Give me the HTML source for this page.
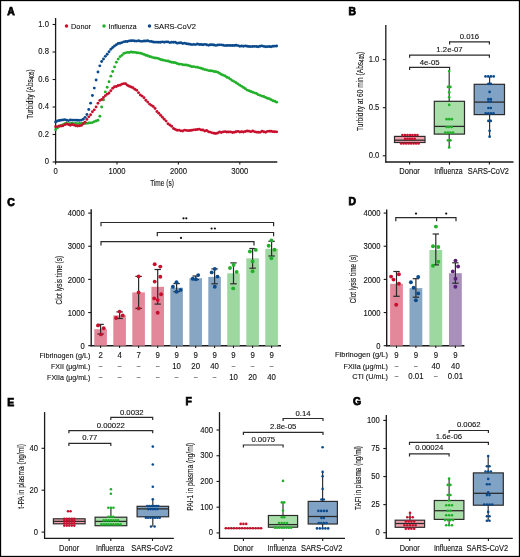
<!DOCTYPE html>
<html><head><meta charset="utf-8"><style>
html,body{margin:0;padding:0;background:#fff;width:520px;height:557px;overflow:hidden}
svg{display:block;will-change:transform}
text{font-family:"Liberation Sans", sans-serif;stroke:#111;stroke-width:0.12px}
</style></head><body>
<svg width="520" height="557" viewBox="0 0 520 557">
<rect width="520" height="557" fill="#fff"/>
<text x="7.20" y="15.15" font-size="10.4" font-weight="bold" fill="#000" style="stroke:#000;stroke-width:0.75px">A</text>
<line x1="55.60" y1="18.00" x2="55.60" y2="162.60" stroke="#1a1a1a" stroke-width="1.3"/>
<line x1="55.00" y1="162.00" x2="277.30" y2="162.00" stroke="#1a1a1a" stroke-width="1.3"/>
<line x1="52.60" y1="162.00" x2="55.60" y2="162.00" stroke="#1a1a1a" stroke-width="1.1"/>
<text x="49.00" y="164.20" font-size="8.5" text-anchor="end" textLength="4.25" lengthAdjust="spacingAndGlyphs" fill="#111">0</text>
<line x1="52.60" y1="134.50" x2="55.60" y2="134.50" stroke="#1a1a1a" stroke-width="1.1"/>
<text x="49.00" y="136.70" font-size="8.5" text-anchor="end" textLength="10.63" lengthAdjust="spacingAndGlyphs" fill="#111">0.2</text>
<line x1="52.60" y1="107.00" x2="55.60" y2="107.00" stroke="#1a1a1a" stroke-width="1.1"/>
<text x="49.00" y="109.20" font-size="8.5" text-anchor="end" textLength="10.63" lengthAdjust="spacingAndGlyphs" fill="#111">0.4</text>
<line x1="52.60" y1="79.50" x2="55.60" y2="79.50" stroke="#1a1a1a" stroke-width="1.1"/>
<text x="49.00" y="81.70" font-size="8.5" text-anchor="end" textLength="10.63" lengthAdjust="spacingAndGlyphs" fill="#111">0.6</text>
<line x1="52.60" y1="52.00" x2="55.60" y2="52.00" stroke="#1a1a1a" stroke-width="1.1"/>
<text x="49.00" y="54.20" font-size="8.5" text-anchor="end" textLength="10.63" lengthAdjust="spacingAndGlyphs" fill="#111">0.8</text>
<line x1="52.60" y1="24.50" x2="55.60" y2="24.50" stroke="#1a1a1a" stroke-width="1.1"/>
<text x="49.00" y="26.70" font-size="8.5" text-anchor="end" textLength="10.63" lengthAdjust="spacingAndGlyphs" fill="#111">1.0</text>
<line x1="55.60" y1="162.00" x2="55.60" y2="164.60" stroke="#1a1a1a" stroke-width="1.1"/>
<text x="55.60" y="173.80" font-size="8.5" text-anchor="middle" textLength="4.25" lengthAdjust="spacingAndGlyphs" fill="#111">0</text>
<line x1="117.00" y1="162.00" x2="117.00" y2="164.60" stroke="#1a1a1a" stroke-width="1.1"/>
<text x="117.00" y="173.80" font-size="8.5" text-anchor="middle" textLength="17.02" lengthAdjust="spacingAndGlyphs" fill="#111">1000</text>
<line x1="178.40" y1="162.00" x2="178.40" y2="164.60" stroke="#1a1a1a" stroke-width="1.1"/>
<text x="178.40" y="173.80" font-size="8.5" text-anchor="middle" textLength="17.02" lengthAdjust="spacingAndGlyphs" fill="#111">2000</text>
<line x1="239.80" y1="162.00" x2="239.80" y2="164.60" stroke="#1a1a1a" stroke-width="1.1"/>
<text x="239.80" y="173.80" font-size="8.5" text-anchor="middle" textLength="17.02" lengthAdjust="spacingAndGlyphs" fill="#111">3000</text>
<text x="162.00" y="186.10" font-size="9.4" text-anchor="middle" textLength="23.7" lengthAdjust="spacingAndGlyphs" fill="#111">Time (s)</text>
<text transform="translate(32.6,94.1) rotate(-90)" font-size="9.2" text-anchor="middle" textLength="49.4" lengthAdjust="spacingAndGlyphs" fill="#111">Turbidity (Abs<tspan font-size="6.6" dy="1.6">405</tspan><tspan dy="-1.6">)</tspan></text>
<circle cx="66.50" cy="26.00" r="1.75" fill="#c8102e"/>
<text x="71.10" y="28.80" font-size="8.0" textLength="19.8" lengthAdjust="spacingAndGlyphs" fill="#111">Donor</text>
<circle cx="104.00" cy="26.00" r="1.75" fill="#22b02a"/>
<text x="108.60" y="28.80" font-size="8.0" textLength="28" lengthAdjust="spacingAndGlyphs" fill="#111">Influenza</text>
<circle cx="149.50" cy="26.00" r="1.75" fill="#0b4a8c"/>
<text x="154.10" y="28.80" font-size="8.0" textLength="41.8" lengthAdjust="spacingAndGlyphs" fill="#111">SARS-CoV2</text>
<circle cx="55.60" cy="129.64" r="1.45" fill="#22b02a"/>
<circle cx="57.44" cy="127.91" r="1.45" fill="#22b02a"/>
<circle cx="59.28" cy="126.40" r="1.45" fill="#22b02a"/>
<circle cx="61.13" cy="125.57" r="1.45" fill="#22b02a"/>
<circle cx="62.97" cy="124.71" r="1.45" fill="#22b02a"/>
<circle cx="64.81" cy="123.73" r="1.45" fill="#22b02a"/>
<circle cx="66.65" cy="123.42" r="1.45" fill="#22b02a"/>
<circle cx="68.49" cy="123.68" r="1.45" fill="#22b02a"/>
<circle cx="70.34" cy="123.40" r="1.45" fill="#22b02a"/>
<circle cx="72.18" cy="123.18" r="1.45" fill="#22b02a"/>
<circle cx="74.02" cy="123.58" r="1.45" fill="#22b02a"/>
<circle cx="75.86" cy="123.47" r="1.45" fill="#22b02a"/>
<circle cx="77.70" cy="123.64" r="1.45" fill="#22b02a"/>
<circle cx="79.55" cy="123.51" r="1.45" fill="#22b02a"/>
<circle cx="81.39" cy="123.54" r="1.45" fill="#22b02a"/>
<circle cx="83.23" cy="123.26" r="1.45" fill="#22b02a"/>
<circle cx="85.07" cy="123.40" r="1.45" fill="#22b02a"/>
<circle cx="86.91" cy="123.37" r="1.45" fill="#22b02a"/>
<circle cx="88.76" cy="123.02" r="1.45" fill="#22b02a"/>
<circle cx="90.60" cy="122.85" r="1.45" fill="#22b02a"/>
<circle cx="92.44" cy="122.60" r="1.45" fill="#22b02a"/>
<circle cx="94.28" cy="121.62" r="1.45" fill="#22b02a"/>
<circle cx="96.12" cy="121.04" r="1.45" fill="#22b02a"/>
<circle cx="97.97" cy="120.24" r="1.45" fill="#22b02a"/>
<circle cx="99.81" cy="116.19" r="1.45" fill="#22b02a"/>
<circle cx="101.65" cy="106.97" r="1.45" fill="#22b02a"/>
<circle cx="103.49" cy="99.89" r="1.45" fill="#22b02a"/>
<circle cx="105.33" cy="91.89" r="1.45" fill="#22b02a"/>
<circle cx="107.18" cy="87.27" r="1.45" fill="#22b02a"/>
<circle cx="109.02" cy="81.81" r="1.45" fill="#22b02a"/>
<circle cx="110.86" cy="76.15" r="1.45" fill="#22b02a"/>
<circle cx="112.70" cy="71.54" r="1.45" fill="#22b02a"/>
<circle cx="114.54" cy="66.91" r="1.45" fill="#22b02a"/>
<circle cx="116.39" cy="62.28" r="1.45" fill="#22b02a"/>
<circle cx="118.23" cy="59.10" r="1.45" fill="#22b02a"/>
<circle cx="120.07" cy="56.63" r="1.45" fill="#22b02a"/>
<circle cx="121.91" cy="55.33" r="1.45" fill="#22b02a"/>
<circle cx="123.75" cy="53.53" r="1.45" fill="#22b02a"/>
<circle cx="125.60" cy="52.84" r="1.45" fill="#22b02a"/>
<circle cx="127.44" cy="52.42" r="1.45" fill="#22b02a"/>
<circle cx="129.28" cy="52.48" r="1.45" fill="#22b02a"/>
<circle cx="131.12" cy="52.00" r="1.45" fill="#22b02a"/>
<circle cx="132.96" cy="52.22" r="1.45" fill="#22b02a"/>
<circle cx="134.81" cy="52.35" r="1.45" fill="#22b02a"/>
<circle cx="136.65" cy="52.68" r="1.45" fill="#22b02a"/>
<circle cx="138.49" cy="52.92" r="1.45" fill="#22b02a"/>
<circle cx="140.33" cy="53.16" r="1.45" fill="#22b02a"/>
<circle cx="142.17" cy="53.76" r="1.45" fill="#22b02a"/>
<circle cx="144.02" cy="54.40" r="1.45" fill="#22b02a"/>
<circle cx="145.86" cy="55.20" r="1.45" fill="#22b02a"/>
<circle cx="147.70" cy="55.76" r="1.45" fill="#22b02a"/>
<circle cx="149.54" cy="56.48" r="1.45" fill="#22b02a"/>
<circle cx="151.38" cy="57.03" r="1.45" fill="#22b02a"/>
<circle cx="153.23" cy="57.62" r="1.45" fill="#22b02a"/>
<circle cx="155.07" cy="57.97" r="1.45" fill="#22b02a"/>
<circle cx="156.91" cy="58.09" r="1.45" fill="#22b02a"/>
<circle cx="158.75" cy="58.82" r="1.45" fill="#22b02a"/>
<circle cx="160.59" cy="59.49" r="1.45" fill="#22b02a"/>
<circle cx="162.44" cy="60.04" r="1.45" fill="#22b02a"/>
<circle cx="164.28" cy="60.36" r="1.45" fill="#22b02a"/>
<circle cx="166.12" cy="60.86" r="1.45" fill="#22b02a"/>
<circle cx="167.96" cy="61.06" r="1.45" fill="#22b02a"/>
<circle cx="169.80" cy="61.77" r="1.45" fill="#22b02a"/>
<circle cx="171.65" cy="62.23" r="1.45" fill="#22b02a"/>
<circle cx="173.49" cy="62.53" r="1.45" fill="#22b02a"/>
<circle cx="175.33" cy="62.77" r="1.45" fill="#22b02a"/>
<circle cx="177.17" cy="63.50" r="1.45" fill="#22b02a"/>
<circle cx="179.01" cy="64.13" r="1.45" fill="#22b02a"/>
<circle cx="180.86" cy="64.09" r="1.45" fill="#22b02a"/>
<circle cx="182.70" cy="64.68" r="1.45" fill="#22b02a"/>
<circle cx="184.54" cy="64.92" r="1.45" fill="#22b02a"/>
<circle cx="186.38" cy="65.07" r="1.45" fill="#22b02a"/>
<circle cx="188.22" cy="65.42" r="1.45" fill="#22b02a"/>
<circle cx="190.07" cy="66.06" r="1.45" fill="#22b02a"/>
<circle cx="191.91" cy="66.63" r="1.45" fill="#22b02a"/>
<circle cx="193.75" cy="66.60" r="1.45" fill="#22b02a"/>
<circle cx="195.59" cy="67.11" r="1.45" fill="#22b02a"/>
<circle cx="197.43" cy="67.21" r="1.45" fill="#22b02a"/>
<circle cx="199.28" cy="67.85" r="1.45" fill="#22b02a"/>
<circle cx="201.12" cy="68.18" r="1.45" fill="#22b02a"/>
<circle cx="202.96" cy="68.94" r="1.45" fill="#22b02a"/>
<circle cx="204.80" cy="69.61" r="1.45" fill="#22b02a"/>
<circle cx="206.64" cy="69.90" r="1.45" fill="#22b02a"/>
<circle cx="208.49" cy="70.58" r="1.45" fill="#22b02a"/>
<circle cx="210.33" cy="70.74" r="1.45" fill="#22b02a"/>
<circle cx="212.17" cy="70.92" r="1.45" fill="#22b02a"/>
<circle cx="214.01" cy="71.56" r="1.45" fill="#22b02a"/>
<circle cx="215.85" cy="71.77" r="1.45" fill="#22b02a"/>
<circle cx="217.70" cy="72.26" r="1.45" fill="#22b02a"/>
<circle cx="219.54" cy="73.30" r="1.45" fill="#22b02a"/>
<circle cx="221.38" cy="74.40" r="1.45" fill="#22b02a"/>
<circle cx="223.22" cy="75.13" r="1.45" fill="#22b02a"/>
<circle cx="225.06" cy="75.89" r="1.45" fill="#22b02a"/>
<circle cx="226.91" cy="77.23" r="1.45" fill="#22b02a"/>
<circle cx="228.75" cy="78.03" r="1.45" fill="#22b02a"/>
<circle cx="230.59" cy="79.36" r="1.45" fill="#22b02a"/>
<circle cx="232.43" cy="80.66" r="1.45" fill="#22b02a"/>
<circle cx="234.27" cy="81.60" r="1.45" fill="#22b02a"/>
<circle cx="236.12" cy="82.71" r="1.45" fill="#22b02a"/>
<circle cx="237.96" cy="83.89" r="1.45" fill="#22b02a"/>
<circle cx="239.80" cy="85.15" r="1.45" fill="#22b02a"/>
<circle cx="241.64" cy="86.34" r="1.45" fill="#22b02a"/>
<circle cx="243.48" cy="87.51" r="1.45" fill="#22b02a"/>
<circle cx="245.33" cy="88.72" r="1.45" fill="#22b02a"/>
<circle cx="247.17" cy="90.11" r="1.45" fill="#22b02a"/>
<circle cx="249.01" cy="90.79" r="1.45" fill="#22b02a"/>
<circle cx="250.85" cy="91.44" r="1.45" fill="#22b02a"/>
<circle cx="252.69" cy="92.32" r="1.45" fill="#22b02a"/>
<circle cx="254.54" cy="92.85" r="1.45" fill="#22b02a"/>
<circle cx="256.38" cy="93.54" r="1.45" fill="#22b02a"/>
<circle cx="258.22" cy="94.67" r="1.45" fill="#22b02a"/>
<circle cx="260.06" cy="95.35" r="1.45" fill="#22b02a"/>
<circle cx="261.90" cy="96.09" r="1.45" fill="#22b02a"/>
<circle cx="263.75" cy="96.53" r="1.45" fill="#22b02a"/>
<circle cx="265.59" cy="97.38" r="1.45" fill="#22b02a"/>
<circle cx="267.43" cy="98.29" r="1.45" fill="#22b02a"/>
<circle cx="269.27" cy="98.80" r="1.45" fill="#22b02a"/>
<circle cx="271.11" cy="99.80" r="1.45" fill="#22b02a"/>
<circle cx="272.96" cy="100.70" r="1.45" fill="#22b02a"/>
<circle cx="274.80" cy="101.20" r="1.45" fill="#22b02a"/>
<circle cx="276.64" cy="102.17" r="1.45" fill="#22b02a"/>
<circle cx="55.60" cy="126.65" r="1.45" fill="#c8102e"/>
<circle cx="57.44" cy="126.61" r="1.45" fill="#c8102e"/>
<circle cx="59.28" cy="125.97" r="1.45" fill="#c8102e"/>
<circle cx="61.13" cy="125.99" r="1.45" fill="#c8102e"/>
<circle cx="62.97" cy="125.87" r="1.45" fill="#c8102e"/>
<circle cx="64.81" cy="124.66" r="1.45" fill="#c8102e"/>
<circle cx="66.65" cy="123.96" r="1.45" fill="#c8102e"/>
<circle cx="68.49" cy="124.56" r="1.45" fill="#c8102e"/>
<circle cx="70.34" cy="125.23" r="1.45" fill="#c8102e"/>
<circle cx="72.18" cy="124.54" r="1.45" fill="#c8102e"/>
<circle cx="74.02" cy="125.01" r="1.45" fill="#c8102e"/>
<circle cx="75.86" cy="125.73" r="1.45" fill="#c8102e"/>
<circle cx="77.70" cy="125.97" r="1.45" fill="#c8102e"/>
<circle cx="79.55" cy="125.79" r="1.45" fill="#c8102e"/>
<circle cx="81.39" cy="125.41" r="1.45" fill="#c8102e"/>
<circle cx="83.23" cy="123.68" r="1.45" fill="#c8102e"/>
<circle cx="85.07" cy="122.14" r="1.45" fill="#c8102e"/>
<circle cx="86.91" cy="119.40" r="1.45" fill="#c8102e"/>
<circle cx="88.76" cy="116.85" r="1.45" fill="#c8102e"/>
<circle cx="90.60" cy="114.71" r="1.45" fill="#c8102e"/>
<circle cx="92.44" cy="111.72" r="1.45" fill="#c8102e"/>
<circle cx="94.28" cy="109.87" r="1.45" fill="#c8102e"/>
<circle cx="96.12" cy="106.92" r="1.45" fill="#c8102e"/>
<circle cx="97.97" cy="103.28" r="1.45" fill="#c8102e"/>
<circle cx="99.81" cy="100.41" r="1.45" fill="#c8102e"/>
<circle cx="101.65" cy="99.47" r="1.45" fill="#c8102e"/>
<circle cx="103.49" cy="97.52" r="1.45" fill="#c8102e"/>
<circle cx="105.33" cy="95.66" r="1.45" fill="#c8102e"/>
<circle cx="107.18" cy="94.17" r="1.45" fill="#c8102e"/>
<circle cx="109.02" cy="92.96" r="1.45" fill="#c8102e"/>
<circle cx="110.86" cy="90.67" r="1.45" fill="#c8102e"/>
<circle cx="112.70" cy="88.19" r="1.45" fill="#c8102e"/>
<circle cx="114.54" cy="86.75" r="1.45" fill="#c8102e"/>
<circle cx="116.39" cy="86.56" r="1.45" fill="#c8102e"/>
<circle cx="118.23" cy="85.45" r="1.45" fill="#c8102e"/>
<circle cx="120.07" cy="85.15" r="1.45" fill="#c8102e"/>
<circle cx="121.91" cy="84.11" r="1.45" fill="#c8102e"/>
<circle cx="123.75" cy="83.66" r="1.45" fill="#c8102e"/>
<circle cx="125.60" cy="83.71" r="1.45" fill="#c8102e"/>
<circle cx="127.44" cy="85.21" r="1.45" fill="#c8102e"/>
<circle cx="129.28" cy="86.20" r="1.45" fill="#c8102e"/>
<circle cx="131.12" cy="86.98" r="1.45" fill="#c8102e"/>
<circle cx="132.96" cy="87.76" r="1.45" fill="#c8102e"/>
<circle cx="134.81" cy="89.31" r="1.45" fill="#c8102e"/>
<circle cx="136.65" cy="90.20" r="1.45" fill="#c8102e"/>
<circle cx="138.49" cy="92.66" r="1.45" fill="#c8102e"/>
<circle cx="140.33" cy="94.95" r="1.45" fill="#c8102e"/>
<circle cx="142.17" cy="96.12" r="1.45" fill="#c8102e"/>
<circle cx="144.02" cy="97.79" r="1.45" fill="#c8102e"/>
<circle cx="145.86" cy="100.27" r="1.45" fill="#c8102e"/>
<circle cx="147.70" cy="102.09" r="1.45" fill="#c8102e"/>
<circle cx="149.54" cy="104.11" r="1.45" fill="#c8102e"/>
<circle cx="151.38" cy="105.34" r="1.45" fill="#c8102e"/>
<circle cx="153.23" cy="106.52" r="1.45" fill="#c8102e"/>
<circle cx="155.07" cy="108.55" r="1.45" fill="#c8102e"/>
<circle cx="156.91" cy="111.44" r="1.45" fill="#c8102e"/>
<circle cx="158.75" cy="113.25" r="1.45" fill="#c8102e"/>
<circle cx="160.59" cy="115.28" r="1.45" fill="#c8102e"/>
<circle cx="162.44" cy="117.25" r="1.45" fill="#c8102e"/>
<circle cx="164.28" cy="119.19" r="1.45" fill="#c8102e"/>
<circle cx="166.12" cy="121.11" r="1.45" fill="#c8102e"/>
<circle cx="167.96" cy="123.74" r="1.45" fill="#c8102e"/>
<circle cx="169.80" cy="124.95" r="1.45" fill="#c8102e"/>
<circle cx="171.65" cy="126.29" r="1.45" fill="#c8102e"/>
<circle cx="173.49" cy="128.47" r="1.45" fill="#c8102e"/>
<circle cx="175.33" cy="129.39" r="1.45" fill="#c8102e"/>
<circle cx="177.17" cy="130.25" r="1.45" fill="#c8102e"/>
<circle cx="179.01" cy="130.15" r="1.45" fill="#c8102e"/>
<circle cx="180.86" cy="130.83" r="1.45" fill="#c8102e"/>
<circle cx="182.70" cy="131.02" r="1.45" fill="#c8102e"/>
<circle cx="184.54" cy="130.12" r="1.45" fill="#c8102e"/>
<circle cx="186.38" cy="130.40" r="1.45" fill="#c8102e"/>
<circle cx="188.22" cy="130.67" r="1.45" fill="#c8102e"/>
<circle cx="190.07" cy="130.56" r="1.45" fill="#c8102e"/>
<circle cx="191.91" cy="130.31" r="1.45" fill="#c8102e"/>
<circle cx="193.75" cy="129.86" r="1.45" fill="#c8102e"/>
<circle cx="195.59" cy="129.71" r="1.45" fill="#c8102e"/>
<circle cx="197.43" cy="129.47" r="1.45" fill="#c8102e"/>
<circle cx="199.28" cy="129.13" r="1.45" fill="#c8102e"/>
<circle cx="201.12" cy="129.88" r="1.45" fill="#c8102e"/>
<circle cx="202.96" cy="130.04" r="1.45" fill="#c8102e"/>
<circle cx="204.80" cy="131.01" r="1.45" fill="#c8102e"/>
<circle cx="206.64" cy="130.57" r="1.45" fill="#c8102e"/>
<circle cx="208.49" cy="131.71" r="1.45" fill="#c8102e"/>
<circle cx="210.33" cy="132.14" r="1.45" fill="#c8102e"/>
<circle cx="212.17" cy="132.83" r="1.45" fill="#c8102e"/>
<circle cx="214.01" cy="133.29" r="1.45" fill="#c8102e"/>
<circle cx="215.85" cy="133.51" r="1.45" fill="#c8102e"/>
<circle cx="217.70" cy="133.03" r="1.45" fill="#c8102e"/>
<circle cx="219.54" cy="131.97" r="1.45" fill="#c8102e"/>
<circle cx="221.38" cy="132.43" r="1.45" fill="#c8102e"/>
<circle cx="223.22" cy="131.83" r="1.45" fill="#c8102e"/>
<circle cx="225.06" cy="131.67" r="1.45" fill="#c8102e"/>
<circle cx="226.91" cy="132.07" r="1.45" fill="#c8102e"/>
<circle cx="228.75" cy="132.04" r="1.45" fill="#c8102e"/>
<circle cx="230.59" cy="131.84" r="1.45" fill="#c8102e"/>
<circle cx="232.43" cy="132.44" r="1.45" fill="#c8102e"/>
<circle cx="234.27" cy="132.25" r="1.45" fill="#c8102e"/>
<circle cx="236.12" cy="131.74" r="1.45" fill="#c8102e"/>
<circle cx="237.96" cy="131.33" r="1.45" fill="#c8102e"/>
<circle cx="239.80" cy="131.95" r="1.45" fill="#c8102e"/>
<circle cx="241.64" cy="131.68" r="1.45" fill="#c8102e"/>
<circle cx="243.48" cy="131.95" r="1.45" fill="#c8102e"/>
<circle cx="245.33" cy="131.44" r="1.45" fill="#c8102e"/>
<circle cx="247.17" cy="130.94" r="1.45" fill="#c8102e"/>
<circle cx="249.01" cy="131.13" r="1.45" fill="#c8102e"/>
<circle cx="250.85" cy="131.64" r="1.45" fill="#c8102e"/>
<circle cx="252.69" cy="131.05" r="1.45" fill="#c8102e"/>
<circle cx="254.54" cy="131.64" r="1.45" fill="#c8102e"/>
<circle cx="256.38" cy="132.15" r="1.45" fill="#c8102e"/>
<circle cx="258.22" cy="132.27" r="1.45" fill="#c8102e"/>
<circle cx="260.06" cy="132.37" r="1.45" fill="#c8102e"/>
<circle cx="261.90" cy="131.31" r="1.45" fill="#c8102e"/>
<circle cx="263.75" cy="131.68" r="1.45" fill="#c8102e"/>
<circle cx="265.59" cy="132.21" r="1.45" fill="#c8102e"/>
<circle cx="267.43" cy="131.36" r="1.45" fill="#c8102e"/>
<circle cx="269.27" cy="131.28" r="1.45" fill="#c8102e"/>
<circle cx="271.11" cy="131.25" r="1.45" fill="#c8102e"/>
<circle cx="272.96" cy="131.63" r="1.45" fill="#c8102e"/>
<circle cx="274.80" cy="131.70" r="1.45" fill="#c8102e"/>
<circle cx="276.64" cy="131.83" r="1.45" fill="#c8102e"/>
<circle cx="55.60" cy="121.98" r="1.45" fill="#0b4a8c"/>
<circle cx="57.44" cy="121.06" r="1.45" fill="#0b4a8c"/>
<circle cx="59.28" cy="120.51" r="1.45" fill="#0b4a8c"/>
<circle cx="61.13" cy="120.17" r="1.45" fill="#0b4a8c"/>
<circle cx="62.97" cy="119.92" r="1.45" fill="#0b4a8c"/>
<circle cx="64.81" cy="119.62" r="1.45" fill="#0b4a8c"/>
<circle cx="66.65" cy="120.28" r="1.45" fill="#0b4a8c"/>
<circle cx="68.49" cy="120.59" r="1.45" fill="#0b4a8c"/>
<circle cx="70.34" cy="119.98" r="1.45" fill="#0b4a8c"/>
<circle cx="72.18" cy="120.09" r="1.45" fill="#0b4a8c"/>
<circle cx="74.02" cy="120.08" r="1.45" fill="#0b4a8c"/>
<circle cx="75.86" cy="120.14" r="1.45" fill="#0b4a8c"/>
<circle cx="77.70" cy="120.27" r="1.45" fill="#0b4a8c"/>
<circle cx="79.55" cy="120.35" r="1.45" fill="#0b4a8c"/>
<circle cx="81.39" cy="120.11" r="1.45" fill="#0b4a8c"/>
<circle cx="83.23" cy="119.24" r="1.45" fill="#0b4a8c"/>
<circle cx="85.07" cy="117.35" r="1.45" fill="#0b4a8c"/>
<circle cx="86.91" cy="114.50" r="1.45" fill="#0b4a8c"/>
<circle cx="88.76" cy="109.48" r="1.45" fill="#0b4a8c"/>
<circle cx="90.60" cy="103.16" r="1.45" fill="#0b4a8c"/>
<circle cx="92.44" cy="95.55" r="1.45" fill="#0b4a8c"/>
<circle cx="94.28" cy="88.09" r="1.45" fill="#0b4a8c"/>
<circle cx="96.12" cy="79.99" r="1.45" fill="#0b4a8c"/>
<circle cx="97.97" cy="71.98" r="1.45" fill="#0b4a8c"/>
<circle cx="99.81" cy="65.87" r="1.45" fill="#0b4a8c"/>
<circle cx="101.65" cy="61.48" r="1.45" fill="#0b4a8c"/>
<circle cx="103.49" cy="59.05" r="1.45" fill="#0b4a8c"/>
<circle cx="105.33" cy="56.33" r="1.45" fill="#0b4a8c"/>
<circle cx="107.18" cy="54.19" r="1.45" fill="#0b4a8c"/>
<circle cx="109.02" cy="51.81" r="1.45" fill="#0b4a8c"/>
<circle cx="110.86" cy="49.25" r="1.45" fill="#0b4a8c"/>
<circle cx="112.70" cy="47.52" r="1.45" fill="#0b4a8c"/>
<circle cx="114.54" cy="46.06" r="1.45" fill="#0b4a8c"/>
<circle cx="116.39" cy="44.79" r="1.45" fill="#0b4a8c"/>
<circle cx="118.23" cy="43.52" r="1.45" fill="#0b4a8c"/>
<circle cx="120.07" cy="43.23" r="1.45" fill="#0b4a8c"/>
<circle cx="121.91" cy="42.62" r="1.45" fill="#0b4a8c"/>
<circle cx="123.75" cy="41.86" r="1.45" fill="#0b4a8c"/>
<circle cx="125.60" cy="41.53" r="1.45" fill="#0b4a8c"/>
<circle cx="127.44" cy="41.53" r="1.45" fill="#0b4a8c"/>
<circle cx="129.28" cy="40.85" r="1.45" fill="#0b4a8c"/>
<circle cx="131.12" cy="40.78" r="1.45" fill="#0b4a8c"/>
<circle cx="132.96" cy="40.67" r="1.45" fill="#0b4a8c"/>
<circle cx="134.81" cy="40.98" r="1.45" fill="#0b4a8c"/>
<circle cx="136.65" cy="41.11" r="1.45" fill="#0b4a8c"/>
<circle cx="138.49" cy="40.75" r="1.45" fill="#0b4a8c"/>
<circle cx="140.33" cy="41.17" r="1.45" fill="#0b4a8c"/>
<circle cx="142.17" cy="41.33" r="1.45" fill="#0b4a8c"/>
<circle cx="144.02" cy="40.93" r="1.45" fill="#0b4a8c"/>
<circle cx="145.86" cy="40.99" r="1.45" fill="#0b4a8c"/>
<circle cx="147.70" cy="40.73" r="1.45" fill="#0b4a8c"/>
<circle cx="149.54" cy="41.34" r="1.45" fill="#0b4a8c"/>
<circle cx="151.38" cy="41.57" r="1.45" fill="#0b4a8c"/>
<circle cx="153.23" cy="41.97" r="1.45" fill="#0b4a8c"/>
<circle cx="155.07" cy="42.15" r="1.45" fill="#0b4a8c"/>
<circle cx="156.91" cy="42.17" r="1.45" fill="#0b4a8c"/>
<circle cx="158.75" cy="42.32" r="1.45" fill="#0b4a8c"/>
<circle cx="160.59" cy="42.28" r="1.45" fill="#0b4a8c"/>
<circle cx="162.44" cy="41.87" r="1.45" fill="#0b4a8c"/>
<circle cx="164.28" cy="42.21" r="1.45" fill="#0b4a8c"/>
<circle cx="166.12" cy="41.86" r="1.45" fill="#0b4a8c"/>
<circle cx="167.96" cy="41.89" r="1.45" fill="#0b4a8c"/>
<circle cx="169.80" cy="42.60" r="1.45" fill="#0b4a8c"/>
<circle cx="171.65" cy="42.29" r="1.45" fill="#0b4a8c"/>
<circle cx="173.49" cy="42.25" r="1.45" fill="#0b4a8c"/>
<circle cx="175.33" cy="42.29" r="1.45" fill="#0b4a8c"/>
<circle cx="177.17" cy="43.13" r="1.45" fill="#0b4a8c"/>
<circle cx="179.01" cy="42.90" r="1.45" fill="#0b4a8c"/>
<circle cx="180.86" cy="42.68" r="1.45" fill="#0b4a8c"/>
<circle cx="182.70" cy="43.44" r="1.45" fill="#0b4a8c"/>
<circle cx="184.54" cy="43.14" r="1.45" fill="#0b4a8c"/>
<circle cx="186.38" cy="43.77" r="1.45" fill="#0b4a8c"/>
<circle cx="188.22" cy="43.96" r="1.45" fill="#0b4a8c"/>
<circle cx="190.07" cy="44.27" r="1.45" fill="#0b4a8c"/>
<circle cx="191.91" cy="44.59" r="1.45" fill="#0b4a8c"/>
<circle cx="193.75" cy="44.42" r="1.45" fill="#0b4a8c"/>
<circle cx="195.59" cy="44.61" r="1.45" fill="#0b4a8c"/>
<circle cx="197.43" cy="43.99" r="1.45" fill="#0b4a8c"/>
<circle cx="199.28" cy="44.46" r="1.45" fill="#0b4a8c"/>
<circle cx="201.12" cy="44.49" r="1.45" fill="#0b4a8c"/>
<circle cx="202.96" cy="44.75" r="1.45" fill="#0b4a8c"/>
<circle cx="204.80" cy="44.33" r="1.45" fill="#0b4a8c"/>
<circle cx="206.64" cy="44.81" r="1.45" fill="#0b4a8c"/>
<circle cx="208.49" cy="45.28" r="1.45" fill="#0b4a8c"/>
<circle cx="210.33" cy="44.69" r="1.45" fill="#0b4a8c"/>
<circle cx="212.17" cy="44.71" r="1.45" fill="#0b4a8c"/>
<circle cx="214.01" cy="44.98" r="1.45" fill="#0b4a8c"/>
<circle cx="215.85" cy="45.40" r="1.45" fill="#0b4a8c"/>
<circle cx="217.70" cy="45.06" r="1.45" fill="#0b4a8c"/>
<circle cx="219.54" cy="44.86" r="1.45" fill="#0b4a8c"/>
<circle cx="221.38" cy="44.86" r="1.45" fill="#0b4a8c"/>
<circle cx="223.22" cy="45.25" r="1.45" fill="#0b4a8c"/>
<circle cx="225.06" cy="45.62" r="1.45" fill="#0b4a8c"/>
<circle cx="226.91" cy="45.47" r="1.45" fill="#0b4a8c"/>
<circle cx="228.75" cy="45.41" r="1.45" fill="#0b4a8c"/>
<circle cx="230.59" cy="45.43" r="1.45" fill="#0b4a8c"/>
<circle cx="232.43" cy="45.43" r="1.45" fill="#0b4a8c"/>
<circle cx="234.27" cy="45.53" r="1.45" fill="#0b4a8c"/>
<circle cx="236.12" cy="45.27" r="1.45" fill="#0b4a8c"/>
<circle cx="237.96" cy="45.59" r="1.45" fill="#0b4a8c"/>
<circle cx="239.80" cy="46.25" r="1.45" fill="#0b4a8c"/>
<circle cx="241.64" cy="46.06" r="1.45" fill="#0b4a8c"/>
<circle cx="243.48" cy="46.32" r="1.45" fill="#0b4a8c"/>
<circle cx="245.33" cy="45.90" r="1.45" fill="#0b4a8c"/>
<circle cx="247.17" cy="46.25" r="1.45" fill="#0b4a8c"/>
<circle cx="249.01" cy="46.52" r="1.45" fill="#0b4a8c"/>
<circle cx="250.85" cy="46.58" r="1.45" fill="#0b4a8c"/>
<circle cx="252.69" cy="46.45" r="1.45" fill="#0b4a8c"/>
<circle cx="254.54" cy="46.37" r="1.45" fill="#0b4a8c"/>
<circle cx="256.38" cy="46.49" r="1.45" fill="#0b4a8c"/>
<circle cx="258.22" cy="46.81" r="1.45" fill="#0b4a8c"/>
<circle cx="260.06" cy="46.24" r="1.45" fill="#0b4a8c"/>
<circle cx="261.90" cy="45.90" r="1.45" fill="#0b4a8c"/>
<circle cx="263.75" cy="46.40" r="1.45" fill="#0b4a8c"/>
<circle cx="265.59" cy="46.82" r="1.45" fill="#0b4a8c"/>
<circle cx="267.43" cy="46.64" r="1.45" fill="#0b4a8c"/>
<circle cx="269.27" cy="46.48" r="1.45" fill="#0b4a8c"/>
<circle cx="271.11" cy="46.69" r="1.45" fill="#0b4a8c"/>
<circle cx="272.96" cy="46.27" r="1.45" fill="#0b4a8c"/>
<circle cx="274.80" cy="46.15" r="1.45" fill="#0b4a8c"/>
<circle cx="276.64" cy="46.03" r="1.45" fill="#0b4a8c"/>
<text x="348.60" y="15.15" font-size="10.4" font-weight="bold" fill="#000" style="stroke:#000;stroke-width:0.75px">B</text>
<line x1="385.80" y1="25.00" x2="385.80" y2="162.60" stroke="#1a1a1a" stroke-width="1.3"/>
<line x1="385.20" y1="162.00" x2="513.50" y2="162.00" stroke="#1a1a1a" stroke-width="1.3"/>
<line x1="382.80" y1="155.80" x2="385.80" y2="155.80" stroke="#1a1a1a" stroke-width="1.1"/>
<text x="379.30" y="158.20" font-size="8.5" text-anchor="end" textLength="10.63" lengthAdjust="spacingAndGlyphs" fill="#111">0.0</text>
<line x1="382.80" y1="107.70" x2="385.80" y2="107.70" stroke="#1a1a1a" stroke-width="1.1"/>
<text x="379.30" y="110.10" font-size="8.5" text-anchor="end" textLength="10.63" lengthAdjust="spacingAndGlyphs" fill="#111">0.5</text>
<line x1="382.80" y1="59.60" x2="385.80" y2="59.60" stroke="#1a1a1a" stroke-width="1.1"/>
<text x="379.30" y="62.00" font-size="8.5" text-anchor="end" textLength="10.63" lengthAdjust="spacingAndGlyphs" fill="#111">1.0</text>
<line x1="409.60" y1="162.00" x2="409.60" y2="164.60" stroke="#1a1a1a" stroke-width="1.1"/>
<text x="409.60" y="173.70" font-size="8.3" text-anchor="middle" textLength="20.5" lengthAdjust="spacingAndGlyphs" fill="#111">Donor</text>
<line x1="449.50" y1="162.00" x2="449.50" y2="164.60" stroke="#1a1a1a" stroke-width="1.1"/>
<text x="448.40" y="173.70" font-size="8.3" text-anchor="middle" textLength="28.3" lengthAdjust="spacingAndGlyphs" fill="#111">Influenza</text>
<line x1="489.40" y1="162.00" x2="489.40" y2="164.60" stroke="#1a1a1a" stroke-width="1.1"/>
<text x="488.40" y="173.70" font-size="8.3" text-anchor="middle" textLength="41.2" lengthAdjust="spacingAndGlyphs" fill="#111">SARS-CoV2</text>
<text transform="translate(362.8,91.4) rotate(-90)" font-size="9.2" text-anchor="middle" textLength="79" lengthAdjust="spacingAndGlyphs" fill="#111">Turbidity at 60 min (Abs<tspan font-size="6.6" dy="1.6">405</tspan><tspan dy="-1.6">)</tspan></text>
<path d="M449.60,44.50 V41.90 H489.40 V44.50" fill="none" stroke="#2a2a2a" stroke-width="1.2"/>
<text x="469.50" y="38.90" font-size="8.0" text-anchor="middle" textLength="19.39" lengthAdjust="spacingAndGlyphs" fill="#111">0.016</text>
<path d="M409.60,57.80 V55.20 H489.40 V57.80" fill="none" stroke="#2a2a2a" stroke-width="1.2"/>
<text x="449.50" y="52.10" font-size="8.0" text-anchor="middle" textLength="26.28" lengthAdjust="spacingAndGlyphs" fill="#111">1.2e-07</text>
<path d="M409.60,70.00 V67.40 H449.60 V70.00" fill="none" stroke="#2a2a2a" stroke-width="1.2"/>
<text x="429.60" y="64.60" font-size="8.0" text-anchor="middle" textLength="19.82" lengthAdjust="spacingAndGlyphs" fill="#111">4e-05</text>
<line x1="409.60" y1="136.40" x2="409.60" y2="142.50" stroke="#333" stroke-width="1.2"/>
<rect x="394.50" y="136.40" width="30.50" height="6.10" fill="#f2a2ad" stroke="#2b2b2b" stroke-width="1.2"/>
<line x1="394.50" y1="140.20" x2="425.00" y2="140.20" stroke="#2b2b2b" stroke-width="1.3"/>
<circle cx="402.40" cy="135.10" r="1.35" fill="#c8102e"/>
<circle cx="404.90" cy="135.10" r="1.35" fill="#c8102e"/>
<circle cx="407.40" cy="135.10" r="1.35" fill="#c8102e"/>
<circle cx="409.90" cy="135.10" r="1.35" fill="#c8102e"/>
<circle cx="412.40" cy="135.10" r="1.35" fill="#c8102e"/>
<circle cx="414.90" cy="135.10" r="1.35" fill="#c8102e"/>
<circle cx="417.40" cy="135.10" r="1.35" fill="#c8102e"/>
<circle cx="405.10" cy="138.80" r="1.35" fill="#c8102e"/>
<circle cx="407.50" cy="138.80" r="1.35" fill="#c8102e"/>
<circle cx="409.90" cy="138.80" r="1.35" fill="#c8102e"/>
<circle cx="412.30" cy="138.80" r="1.35" fill="#c8102e"/>
<circle cx="414.70" cy="138.80" r="1.35" fill="#c8102e"/>
<circle cx="401.15" cy="143.50" r="1.35" fill="#c8102e"/>
<circle cx="403.65" cy="143.50" r="1.35" fill="#c8102e"/>
<circle cx="406.15" cy="143.50" r="1.35" fill="#c8102e"/>
<circle cx="408.65" cy="143.50" r="1.35" fill="#c8102e"/>
<circle cx="411.15" cy="143.50" r="1.35" fill="#c8102e"/>
<circle cx="413.65" cy="143.50" r="1.35" fill="#c8102e"/>
<circle cx="416.15" cy="143.50" r="1.35" fill="#c8102e"/>
<circle cx="418.65" cy="143.50" r="1.35" fill="#c8102e"/>
<line x1="449.20" y1="71.10" x2="449.20" y2="147.40" stroke="#333" stroke-width="1.2"/>
<rect x="434.30" y="101.30" width="30.20" height="32.80" fill="#a8dfa8" stroke="#2b2b2b" stroke-width="1.2"/>
<line x1="434.30" y1="126.40" x2="464.50" y2="126.40" stroke="#2b2b2b" stroke-width="1.3"/>
<circle cx="449.20" cy="71.10" r="1.35" fill="#22b02a"/>
<circle cx="448.00" cy="86.90" r="1.35" fill="#22b02a"/>
<circle cx="450.40" cy="86.90" r="1.35" fill="#22b02a"/>
<circle cx="449.20" cy="92.30" r="1.35" fill="#22b02a"/>
<circle cx="449.20" cy="97.30" r="1.35" fill="#22b02a"/>
<circle cx="449.20" cy="104.90" r="1.35" fill="#22b02a"/>
<circle cx="446.60" cy="119.20" r="1.35" fill="#22b02a"/>
<circle cx="449.20" cy="119.20" r="1.35" fill="#22b02a"/>
<circle cx="451.80" cy="119.20" r="1.35" fill="#22b02a"/>
<circle cx="446.60" cy="127.00" r="1.35" fill="#22b02a"/>
<circle cx="449.20" cy="127.00" r="1.35" fill="#22b02a"/>
<circle cx="451.80" cy="127.00" r="1.35" fill="#22b02a"/>
<circle cx="445.30" cy="132.70" r="1.35" fill="#22b02a"/>
<circle cx="447.90" cy="132.70" r="1.35" fill="#22b02a"/>
<circle cx="450.50" cy="132.70" r="1.35" fill="#22b02a"/>
<circle cx="453.10" cy="132.70" r="1.35" fill="#22b02a"/>
<circle cx="448.00" cy="140.30" r="1.35" fill="#22b02a"/>
<circle cx="450.40" cy="140.30" r="1.35" fill="#22b02a"/>
<circle cx="449.20" cy="147.40" r="1.35" fill="#22b02a"/>
<line x1="489.60" y1="76.40" x2="489.60" y2="136.70" stroke="#333" stroke-width="1.2"/>
<rect x="474.20" y="84.30" width="30.30" height="30.30" fill="#80a3c5" stroke="#2b2b2b" stroke-width="1.2"/>
<line x1="474.20" y1="102.10" x2="504.50" y2="102.10" stroke="#2b2b2b" stroke-width="1.3"/>
<circle cx="485.55" cy="76.40" r="1.35" fill="#0b4a8c"/>
<circle cx="488.25" cy="76.40" r="1.35" fill="#0b4a8c"/>
<circle cx="490.95" cy="76.40" r="1.35" fill="#0b4a8c"/>
<circle cx="493.65" cy="76.40" r="1.35" fill="#0b4a8c"/>
<circle cx="488.40" cy="83.80" r="1.35" fill="#0b4a8c"/>
<circle cx="490.80" cy="83.80" r="1.35" fill="#0b4a8c"/>
<circle cx="489.60" cy="91.90" r="1.35" fill="#0b4a8c"/>
<circle cx="488.40" cy="99.20" r="1.35" fill="#0b4a8c"/>
<circle cx="490.80" cy="99.20" r="1.35" fill="#0b4a8c"/>
<circle cx="488.40" cy="101.50" r="1.35" fill="#0b4a8c"/>
<circle cx="490.80" cy="101.50" r="1.35" fill="#0b4a8c"/>
<circle cx="488.40" cy="108.00" r="1.35" fill="#0b4a8c"/>
<circle cx="490.80" cy="108.00" r="1.35" fill="#0b4a8c"/>
<circle cx="485.70" cy="113.40" r="1.35" fill="#0b4a8c"/>
<circle cx="488.30" cy="113.40" r="1.35" fill="#0b4a8c"/>
<circle cx="490.90" cy="113.40" r="1.35" fill="#0b4a8c"/>
<circle cx="493.50" cy="113.40" r="1.35" fill="#0b4a8c"/>
<circle cx="488.40" cy="120.90" r="1.35" fill="#0b4a8c"/>
<circle cx="490.80" cy="120.90" r="1.35" fill="#0b4a8c"/>
<circle cx="489.60" cy="130.80" r="1.35" fill="#0b4a8c"/>
<circle cx="489.60" cy="136.70" r="1.35" fill="#0b4a8c"/>
<text x="7.20" y="205.55" font-size="10.4" font-weight="bold" fill="#000" style="stroke:#000;stroke-width:0.75px">C</text>
<line x1="91.20" y1="209.20" x2="91.20" y2="346.30" stroke="#1a1a1a" stroke-width="1.4"/>
<line x1="90.50" y1="345.70" x2="281.00" y2="345.70" stroke="#1a1a1a" stroke-width="1.4"/>
<line x1="88.20" y1="345.70" x2="91.20" y2="345.70" stroke="#1a1a1a" stroke-width="1.1"/>
<text x="84.80" y="348.80" font-size="8.5" text-anchor="end" textLength="4.25" lengthAdjust="spacingAndGlyphs" fill="#111">0</text>
<line x1="88.20" y1="312.55" x2="91.20" y2="312.55" stroke="#1a1a1a" stroke-width="1.1"/>
<text x="84.80" y="315.65" font-size="8.5" text-anchor="end" textLength="17.02" lengthAdjust="spacingAndGlyphs" fill="#111">1000</text>
<line x1="88.20" y1="279.40" x2="91.20" y2="279.40" stroke="#1a1a1a" stroke-width="1.1"/>
<text x="84.80" y="282.50" font-size="8.5" text-anchor="end" textLength="17.02" lengthAdjust="spacingAndGlyphs" fill="#111">2000</text>
<line x1="88.20" y1="246.25" x2="91.20" y2="246.25" stroke="#1a1a1a" stroke-width="1.1"/>
<text x="84.80" y="249.35" font-size="8.5" text-anchor="end" textLength="17.02" lengthAdjust="spacingAndGlyphs" fill="#111">3000</text>
<line x1="88.20" y1="213.10" x2="91.20" y2="213.10" stroke="#1a1a1a" stroke-width="1.1"/>
<text x="84.80" y="216.20" font-size="8.5" text-anchor="end" textLength="17.02" lengthAdjust="spacingAndGlyphs" fill="#111">4000</text>
<text transform="translate(61.60,280.20) rotate(-90)" x="0" y="0" font-size="9.2" text-anchor="middle" textLength="48.5" lengthAdjust="spacingAndGlyphs" fill="#111">Clot lysis time (s)</text>
<rect x="94.30" y="329.20" width="12.60" height="16.50" fill="#e2889a"/>
<rect x="113.30" y="315.40" width="12.60" height="30.30" fill="#e2889a"/>
<rect x="132.30" y="292.40" width="12.60" height="53.30" fill="#e2889a"/>
<rect x="151.40" y="286.80" width="12.60" height="58.90" fill="#e2889a"/>
<rect x="170.30" y="287.70" width="12.60" height="58.00" fill="#87a6c4"/>
<rect x="189.40" y="278.20" width="12.60" height="67.50" fill="#87a6c4"/>
<rect x="208.30" y="276.90" width="12.60" height="68.80" fill="#87a6c4"/>
<rect x="227.20" y="273.30" width="12.60" height="72.40" fill="#9dd8a0"/>
<rect x="246.30" y="258.30" width="12.60" height="87.40" fill="#9dd8a0"/>
<rect x="265.30" y="248.80" width="12.60" height="96.90" fill="#9dd8a0"/>
<line x1="100.60" y1="324.40" x2="100.60" y2="334.00" stroke="#2a2a2a" stroke-width="1.2"/>
<line x1="97.40" y1="324.40" x2="103.80" y2="324.40" stroke="#2a2a2a" stroke-width="1.2"/>
<line x1="97.40" y1="334.00" x2="103.80" y2="334.00" stroke="#2a2a2a" stroke-width="1.2"/>
<line x1="100.60" y1="345.70" x2="100.60" y2="348.10" stroke="#1a1a1a" stroke-width="1.1"/>
<circle cx="98.00" cy="325.40" r="1.95" fill="#c8102e"/>
<circle cx="103.70" cy="328.30" r="1.95" fill="#c8102e"/>
<circle cx="100.90" cy="334.40" r="1.95" fill="#c8102e"/>
<line x1="119.60" y1="311.90" x2="119.60" y2="318.50" stroke="#2a2a2a" stroke-width="1.2"/>
<line x1="116.40" y1="311.90" x2="122.80" y2="311.90" stroke="#2a2a2a" stroke-width="1.2"/>
<line x1="116.40" y1="318.50" x2="122.80" y2="318.50" stroke="#2a2a2a" stroke-width="1.2"/>
<line x1="119.60" y1="345.70" x2="119.60" y2="348.10" stroke="#1a1a1a" stroke-width="1.1"/>
<circle cx="119.60" cy="311.60" r="1.95" fill="#c8102e"/>
<circle cx="116.10" cy="318.00" r="1.95" fill="#c8102e"/>
<circle cx="122.70" cy="315.40" r="1.95" fill="#c8102e"/>
<line x1="138.60" y1="276.40" x2="138.60" y2="308.40" stroke="#2a2a2a" stroke-width="1.2"/>
<line x1="135.40" y1="276.40" x2="141.80" y2="276.40" stroke="#2a2a2a" stroke-width="1.2"/>
<line x1="135.40" y1="308.40" x2="141.80" y2="308.40" stroke="#2a2a2a" stroke-width="1.2"/>
<line x1="138.60" y1="345.70" x2="138.60" y2="348.10" stroke="#1a1a1a" stroke-width="1.1"/>
<circle cx="138.60" cy="276.40" r="1.95" fill="#c8102e"/>
<circle cx="138.60" cy="292.40" r="1.95" fill="#c8102e"/>
<circle cx="138.60" cy="308.40" r="1.95" fill="#c8102e"/>
<line x1="157.70" y1="269.50" x2="157.70" y2="304.10" stroke="#2a2a2a" stroke-width="1.2"/>
<line x1="154.50" y1="269.50" x2="160.90" y2="269.50" stroke="#2a2a2a" stroke-width="1.2"/>
<line x1="154.50" y1="304.10" x2="160.90" y2="304.10" stroke="#2a2a2a" stroke-width="1.2"/>
<line x1="157.70" y1="345.70" x2="157.70" y2="348.10" stroke="#1a1a1a" stroke-width="1.1"/>
<circle cx="154.70" cy="264.30" r="1.95" fill="#c8102e"/>
<circle cx="160.30" cy="266.60" r="1.95" fill="#c8102e"/>
<circle cx="160.30" cy="276.80" r="1.95" fill="#c8102e"/>
<circle cx="154.70" cy="281.60" r="1.95" fill="#c8102e"/>
<circle cx="161.10" cy="294.30" r="1.95" fill="#c8102e"/>
<circle cx="154.20" cy="298.40" r="1.95" fill="#c8102e"/>
<circle cx="157.70" cy="300.10" r="1.95" fill="#c8102e"/>
<circle cx="157.70" cy="312.80" r="1.95" fill="#c8102e"/>
<line x1="176.60" y1="283.60" x2="176.60" y2="291.70" stroke="#2a2a2a" stroke-width="1.2"/>
<line x1="173.40" y1="283.60" x2="179.80" y2="283.60" stroke="#2a2a2a" stroke-width="1.2"/>
<line x1="173.40" y1="291.70" x2="179.80" y2="291.70" stroke="#2a2a2a" stroke-width="1.2"/>
<line x1="176.60" y1="345.70" x2="176.60" y2="348.10" stroke="#1a1a1a" stroke-width="1.1"/>
<circle cx="176.50" cy="282.30" r="1.95" fill="#0b4a8c"/>
<circle cx="172.90" cy="286.80" r="1.95" fill="#0b4a8c"/>
<circle cx="180.60" cy="289.90" r="1.95" fill="#0b4a8c"/>
<circle cx="176.50" cy="291.70" r="1.95" fill="#0b4a8c"/>
<line x1="195.70" y1="276.00" x2="195.70" y2="279.60" stroke="#2a2a2a" stroke-width="1.2"/>
<line x1="192.50" y1="276.00" x2="198.90" y2="276.00" stroke="#2a2a2a" stroke-width="1.2"/>
<line x1="192.50" y1="279.60" x2="198.90" y2="279.60" stroke="#2a2a2a" stroke-width="1.2"/>
<line x1="195.70" y1="345.70" x2="195.70" y2="348.10" stroke="#1a1a1a" stroke-width="1.1"/>
<circle cx="192.70" cy="278.70" r="1.95" fill="#0b4a8c"/>
<circle cx="195.90" cy="279.30" r="1.95" fill="#0b4a8c"/>
<circle cx="198.20" cy="275.10" r="1.95" fill="#0b4a8c"/>
<line x1="214.60" y1="268.90" x2="214.60" y2="283.80" stroke="#2a2a2a" stroke-width="1.2"/>
<line x1="211.40" y1="268.90" x2="217.80" y2="268.90" stroke="#2a2a2a" stroke-width="1.2"/>
<line x1="211.40" y1="283.80" x2="217.80" y2="283.80" stroke="#2a2a2a" stroke-width="1.2"/>
<line x1="214.60" y1="345.70" x2="214.60" y2="348.10" stroke="#1a1a1a" stroke-width="1.1"/>
<circle cx="211.70" cy="272.40" r="1.95" fill="#0b4a8c"/>
<circle cx="214.80" cy="268.90" r="1.95" fill="#0b4a8c"/>
<circle cx="217.50" cy="276.60" r="1.95" fill="#0b4a8c"/>
<circle cx="214.80" cy="286.80" r="1.95" fill="#0b4a8c"/>
<line x1="233.50" y1="262.90" x2="233.50" y2="283.80" stroke="#2a2a2a" stroke-width="1.2"/>
<line x1="230.30" y1="262.90" x2="236.70" y2="262.90" stroke="#2a2a2a" stroke-width="1.2"/>
<line x1="230.30" y1="283.80" x2="236.70" y2="283.80" stroke="#2a2a2a" stroke-width="1.2"/>
<line x1="233.50" y1="345.70" x2="233.50" y2="348.10" stroke="#1a1a1a" stroke-width="1.1"/>
<circle cx="230.00" cy="268.00" r="1.95" fill="#22b02a"/>
<circle cx="233.60" cy="264.90" r="1.95" fill="#22b02a"/>
<circle cx="236.70" cy="271.90" r="1.95" fill="#22b02a"/>
<circle cx="233.20" cy="288.40" r="1.95" fill="#22b02a"/>
<line x1="252.60" y1="248.50" x2="252.60" y2="268.20" stroke="#2a2a2a" stroke-width="1.2"/>
<line x1="249.40" y1="248.50" x2="255.80" y2="248.50" stroke="#2a2a2a" stroke-width="1.2"/>
<line x1="249.40" y1="268.20" x2="255.80" y2="268.20" stroke="#2a2a2a" stroke-width="1.2"/>
<line x1="252.60" y1="345.70" x2="252.60" y2="348.10" stroke="#1a1a1a" stroke-width="1.1"/>
<circle cx="249.90" cy="251.50" r="1.95" fill="#22b02a"/>
<circle cx="255.80" cy="249.90" r="1.95" fill="#22b02a"/>
<circle cx="252.60" cy="261.40" r="1.95" fill="#22b02a"/>
<circle cx="252.60" cy="271.30" r="1.95" fill="#22b02a"/>
<line x1="271.60" y1="241.30" x2="271.60" y2="256.00" stroke="#2a2a2a" stroke-width="1.2"/>
<line x1="268.40" y1="241.30" x2="274.80" y2="241.30" stroke="#2a2a2a" stroke-width="1.2"/>
<line x1="268.40" y1="256.00" x2="274.80" y2="256.00" stroke="#2a2a2a" stroke-width="1.2"/>
<line x1="271.60" y1="345.70" x2="271.60" y2="348.10" stroke="#1a1a1a" stroke-width="1.1"/>
<circle cx="271.40" cy="240.40" r="1.95" fill="#22b02a"/>
<circle cx="268.70" cy="245.80" r="1.95" fill="#22b02a"/>
<circle cx="274.50" cy="249.70" r="1.95" fill="#22b02a"/>
<circle cx="271.40" cy="258.30" r="1.95" fill="#22b02a"/>
<path d="M101.00,226.30 V222.50 H273.60 V226.30" fill="none" stroke="#2a2a2a" stroke-width="1.2"/>
<path d="M157.30,236.30 V232.50 H273.60 V236.30" fill="none" stroke="#2a2a2a" stroke-width="1.2"/>
<path d="M101.00,245.40 V241.60 H254.00 V245.40" fill="none" stroke="#2a2a2a" stroke-width="1.2"/>
<circle cx="183.50" cy="218.30" r="1.1" fill="#111"/>
<circle cx="186.30" cy="218.30" r="1.1" fill="#111"/>
<circle cx="211.60" cy="228.50" r="1.1" fill="#111"/>
<circle cx="214.90" cy="228.50" r="1.1" fill="#111"/>
<circle cx="181.00" cy="237.90" r="1.1" fill="#111"/>
<text x="90.40" y="357.60" font-size="8.0" text-anchor="end" textLength="51" lengthAdjust="spacingAndGlyphs" fill="#111">Fibrinogen (g/L)</text>
<text x="90.40" y="368.80" font-size="8.0" text-anchor="end" textLength="39.4" lengthAdjust="spacingAndGlyphs" fill="#111">FXII (μg/mL)</text>
<text x="90.40" y="379.70" font-size="8.0" text-anchor="end" textLength="43.3" lengthAdjust="spacingAndGlyphs" fill="#111">FXIIa (μg/mL)</text>
<text x="100.60" y="357.70" font-size="8.5" text-anchor="middle" textLength="4.35" lengthAdjust="spacingAndGlyphs" fill="#111">2</text>
<text x="100.60" y="368.00" font-size="8.0" text-anchor="middle" textLength="3.56" lengthAdjust="spacingAndGlyphs" fill="#111">–</text>
<text x="100.60" y="378.90" font-size="8.0" text-anchor="middle" textLength="3.56" lengthAdjust="spacingAndGlyphs" fill="#111">–</text>
<text x="119.60" y="357.70" font-size="8.5" text-anchor="middle" textLength="4.35" lengthAdjust="spacingAndGlyphs" fill="#111">4</text>
<text x="119.60" y="368.00" font-size="8.0" text-anchor="middle" textLength="3.56" lengthAdjust="spacingAndGlyphs" fill="#111">–</text>
<text x="119.60" y="378.90" font-size="8.0" text-anchor="middle" textLength="3.56" lengthAdjust="spacingAndGlyphs" fill="#111">–</text>
<text x="138.60" y="357.70" font-size="8.5" text-anchor="middle" textLength="4.35" lengthAdjust="spacingAndGlyphs" fill="#111">7</text>
<text x="138.60" y="368.00" font-size="8.0" text-anchor="middle" textLength="3.56" lengthAdjust="spacingAndGlyphs" fill="#111">–</text>
<text x="138.60" y="378.90" font-size="8.0" text-anchor="middle" textLength="3.56" lengthAdjust="spacingAndGlyphs" fill="#111">–</text>
<text x="157.70" y="357.70" font-size="8.5" text-anchor="middle" textLength="4.35" lengthAdjust="spacingAndGlyphs" fill="#111">9</text>
<text x="157.70" y="368.00" font-size="8.0" text-anchor="middle" textLength="3.56" lengthAdjust="spacingAndGlyphs" fill="#111">–</text>
<text x="157.70" y="378.90" font-size="8.0" text-anchor="middle" textLength="3.56" lengthAdjust="spacingAndGlyphs" fill="#111">–</text>
<text x="176.60" y="357.70" font-size="8.5" text-anchor="middle" textLength="4.35" lengthAdjust="spacingAndGlyphs" fill="#111">9</text>
<text x="176.60" y="368.90" font-size="8.5" text-anchor="middle" textLength="8.7" lengthAdjust="spacingAndGlyphs" fill="#111">10</text>
<text x="176.60" y="378.90" font-size="8.0" text-anchor="middle" textLength="3.56" lengthAdjust="spacingAndGlyphs" fill="#111">–</text>
<text x="195.70" y="357.70" font-size="8.5" text-anchor="middle" textLength="4.35" lengthAdjust="spacingAndGlyphs" fill="#111">9</text>
<text x="195.70" y="368.90" font-size="8.5" text-anchor="middle" textLength="8.7" lengthAdjust="spacingAndGlyphs" fill="#111">20</text>
<text x="195.70" y="378.90" font-size="8.0" text-anchor="middle" textLength="3.56" lengthAdjust="spacingAndGlyphs" fill="#111">–</text>
<text x="214.60" y="357.70" font-size="8.5" text-anchor="middle" textLength="4.35" lengthAdjust="spacingAndGlyphs" fill="#111">9</text>
<text x="214.60" y="368.90" font-size="8.5" text-anchor="middle" textLength="8.7" lengthAdjust="spacingAndGlyphs" fill="#111">40</text>
<text x="214.60" y="378.90" font-size="8.0" text-anchor="middle" textLength="3.56" lengthAdjust="spacingAndGlyphs" fill="#111">–</text>
<text x="233.50" y="357.70" font-size="8.5" text-anchor="middle" textLength="4.35" lengthAdjust="spacingAndGlyphs" fill="#111">9</text>
<text x="233.50" y="368.00" font-size="8.0" text-anchor="middle" textLength="3.56" lengthAdjust="spacingAndGlyphs" fill="#111">–</text>
<text x="233.50" y="379.80" font-size="8.5" text-anchor="middle" textLength="8.7" lengthAdjust="spacingAndGlyphs" fill="#111">10</text>
<text x="252.60" y="357.70" font-size="8.5" text-anchor="middle" textLength="4.35" lengthAdjust="spacingAndGlyphs" fill="#111">9</text>
<text x="252.60" y="368.00" font-size="8.0" text-anchor="middle" textLength="3.56" lengthAdjust="spacingAndGlyphs" fill="#111">–</text>
<text x="252.60" y="379.80" font-size="8.5" text-anchor="middle" textLength="8.7" lengthAdjust="spacingAndGlyphs" fill="#111">20</text>
<text x="271.60" y="357.70" font-size="8.5" text-anchor="middle" textLength="4.35" lengthAdjust="spacingAndGlyphs" fill="#111">9</text>
<text x="271.60" y="368.00" font-size="8.0" text-anchor="middle" textLength="3.56" lengthAdjust="spacingAndGlyphs" fill="#111">–</text>
<text x="271.60" y="379.80" font-size="8.5" text-anchor="middle" textLength="8.7" lengthAdjust="spacingAndGlyphs" fill="#111">40</text>
<text x="348.60" y="205.35" font-size="10.4" font-weight="bold" fill="#000" style="stroke:#000;stroke-width:0.75px">D</text>
<line x1="386.70" y1="209.40" x2="386.70" y2="346.30" stroke="#1a1a1a" stroke-width="1.4"/>
<line x1="386.00" y1="345.70" x2="464.40" y2="345.70" stroke="#1a1a1a" stroke-width="1.4"/>
<line x1="383.70" y1="345.70" x2="386.70" y2="345.70" stroke="#1a1a1a" stroke-width="1.1"/>
<text x="380.40" y="348.80" font-size="8.5" text-anchor="end" textLength="4.25" lengthAdjust="spacingAndGlyphs" fill="#111">0</text>
<line x1="383.70" y1="312.55" x2="386.70" y2="312.55" stroke="#1a1a1a" stroke-width="1.1"/>
<text x="380.40" y="315.65" font-size="8.5" text-anchor="end" textLength="17.02" lengthAdjust="spacingAndGlyphs" fill="#111">1000</text>
<line x1="383.70" y1="279.40" x2="386.70" y2="279.40" stroke="#1a1a1a" stroke-width="1.1"/>
<text x="380.40" y="282.50" font-size="8.5" text-anchor="end" textLength="17.02" lengthAdjust="spacingAndGlyphs" fill="#111">2000</text>
<line x1="383.70" y1="246.25" x2="386.70" y2="246.25" stroke="#1a1a1a" stroke-width="1.1"/>
<text x="380.40" y="249.35" font-size="8.5" text-anchor="end" textLength="17.02" lengthAdjust="spacingAndGlyphs" fill="#111">3000</text>
<line x1="383.70" y1="213.10" x2="386.70" y2="213.10" stroke="#1a1a1a" stroke-width="1.1"/>
<text x="380.40" y="216.20" font-size="8.5" text-anchor="end" textLength="17.02" lengthAdjust="spacingAndGlyphs" fill="#111">4000</text>
<text transform="translate(356.10,279.00) rotate(-90)" x="0" y="0" font-size="9.2" text-anchor="middle" textLength="48.5" lengthAdjust="spacingAndGlyphs" fill="#111">Clot lysis time (s)</text>
<rect x="390.10" y="283.80" width="12.80" height="61.90" fill="#e2889a"/>
<rect x="409.50" y="288.10" width="12.80" height="57.60" fill="#87a6c4"/>
<rect x="429.40" y="249.90" width="12.80" height="95.80" fill="#9dd8a0"/>
<rect x="449.00" y="273.20" width="12.80" height="72.50" fill="#a890bb"/>
<line x1="396.50" y1="271.50" x2="396.50" y2="296.30" stroke="#2a2a2a" stroke-width="1.2"/>
<line x1="393.30" y1="271.50" x2="399.70" y2="271.50" stroke="#2a2a2a" stroke-width="1.2"/>
<line x1="393.30" y1="296.30" x2="399.70" y2="296.30" stroke="#2a2a2a" stroke-width="1.2"/>
<line x1="396.50" y1="345.70" x2="396.50" y2="348.10" stroke="#1a1a1a" stroke-width="1.1"/>
<circle cx="391.10" cy="276.60" r="1.95" fill="#c8102e"/>
<circle cx="393.50" cy="279.60" r="1.95" fill="#c8102e"/>
<circle cx="398.90" cy="274.20" r="1.95" fill="#c8102e"/>
<circle cx="398.90" cy="283.80" r="1.95" fill="#c8102e"/>
<circle cx="396.20" cy="304.80" r="1.95" fill="#c8102e"/>
<line x1="415.90" y1="278.70" x2="415.90" y2="297.20" stroke="#2a2a2a" stroke-width="1.2"/>
<line x1="412.70" y1="278.70" x2="419.10" y2="278.70" stroke="#2a2a2a" stroke-width="1.2"/>
<line x1="412.70" y1="297.20" x2="419.10" y2="297.20" stroke="#2a2a2a" stroke-width="1.2"/>
<line x1="415.90" y1="345.70" x2="415.90" y2="348.10" stroke="#1a1a1a" stroke-width="1.1"/>
<circle cx="410.90" cy="282.30" r="1.95" fill="#0b4a8c"/>
<circle cx="418.20" cy="276.90" r="1.95" fill="#0b4a8c"/>
<circle cx="413.60" cy="287.70" r="1.95" fill="#0b4a8c"/>
<circle cx="418.20" cy="293.40" r="1.95" fill="#0b4a8c"/>
<circle cx="415.90" cy="300.30" r="1.95" fill="#0b4a8c"/>
<line x1="435.80" y1="234.00" x2="435.80" y2="264.90" stroke="#2a2a2a" stroke-width="1.2"/>
<line x1="432.60" y1="234.00" x2="439.00" y2="234.00" stroke="#2a2a2a" stroke-width="1.2"/>
<line x1="432.60" y1="264.90" x2="439.00" y2="264.90" stroke="#2a2a2a" stroke-width="1.2"/>
<line x1="435.80" y1="345.70" x2="435.80" y2="348.10" stroke="#1a1a1a" stroke-width="1.1"/>
<circle cx="435.90" cy="226.60" r="1.95" fill="#22b02a"/>
<circle cx="433.00" cy="246.30" r="1.95" fill="#22b02a"/>
<circle cx="438.30" cy="247.00" r="1.95" fill="#22b02a"/>
<circle cx="438.30" cy="261.80" r="1.95" fill="#22b02a"/>
<circle cx="433.00" cy="265.70" r="1.95" fill="#22b02a"/>
<line x1="455.40" y1="262.80" x2="455.40" y2="283.20" stroke="#2a2a2a" stroke-width="1.2"/>
<line x1="452.20" y1="262.80" x2="458.60" y2="262.80" stroke="#2a2a2a" stroke-width="1.2"/>
<line x1="452.20" y1="283.20" x2="458.60" y2="283.20" stroke="#2a2a2a" stroke-width="1.2"/>
<line x1="455.40" y1="345.70" x2="455.40" y2="348.10" stroke="#1a1a1a" stroke-width="1.1"/>
<circle cx="455.50" cy="260.60" r="1.95" fill="#5a1e78"/>
<circle cx="458.10" cy="266.50" r="1.95" fill="#5a1e78"/>
<circle cx="452.80" cy="271.40" r="1.95" fill="#5a1e78"/>
<circle cx="455.50" cy="278.70" r="1.95" fill="#5a1e78"/>
<circle cx="455.40" cy="286.80" r="1.95" fill="#5a1e78"/>
<path d="M395.8,221.3 V217.6 H456 V221.3 M436.6,217.6 V221.3" fill="none" stroke="#2a2a2a" stroke-width="1.2"/>
<circle cx="416.00" cy="213.60" r="1.1" fill="#111"/>
<circle cx="446.20" cy="213.60" r="1.1" fill="#111"/>
<text x="388.00" y="357.40" font-size="8.0" text-anchor="end" textLength="53" lengthAdjust="spacingAndGlyphs" fill="#111">Fibrinogen (g/L)</text>
<text x="388.00" y="368.70" font-size="8.0" text-anchor="end" textLength="44.5" lengthAdjust="spacingAndGlyphs" fill="#111">FXIIa (μg/mL)</text>
<text x="388.00" y="379.00" font-size="8.0" text-anchor="end" textLength="35.8" lengthAdjust="spacingAndGlyphs" fill="#111">CTI (U/mL)</text>
<text x="396.50" y="357.50" font-size="8.5" text-anchor="middle" textLength="4.35" lengthAdjust="spacingAndGlyphs" fill="#111">9</text>
<text x="396.50" y="367.90" font-size="8.0" text-anchor="middle" textLength="3.56" lengthAdjust="spacingAndGlyphs" fill="#111">–</text>
<text x="396.50" y="378.20" font-size="8.0" text-anchor="middle" textLength="3.56" lengthAdjust="spacingAndGlyphs" fill="#111">–</text>
<text x="415.90" y="357.50" font-size="8.5" text-anchor="middle" textLength="4.35" lengthAdjust="spacingAndGlyphs" fill="#111">9</text>
<text x="415.90" y="367.90" font-size="8.0" text-anchor="middle" textLength="3.56" lengthAdjust="spacingAndGlyphs" fill="#111">–</text>
<text x="415.90" y="379.10" font-size="8.5" text-anchor="middle" textLength="15.22" lengthAdjust="spacingAndGlyphs" fill="#111">0.01</text>
<text x="435.80" y="357.50" font-size="8.5" text-anchor="middle" textLength="4.35" lengthAdjust="spacingAndGlyphs" fill="#111">9</text>
<text x="435.80" y="368.80" font-size="8.5" text-anchor="middle" textLength="8.7" lengthAdjust="spacingAndGlyphs" fill="#111">40</text>
<text x="435.80" y="378.20" font-size="8.0" text-anchor="middle" textLength="3.56" lengthAdjust="spacingAndGlyphs" fill="#111">–</text>
<text x="455.40" y="357.50" font-size="8.5" text-anchor="middle" textLength="4.35" lengthAdjust="spacingAndGlyphs" fill="#111">9</text>
<text x="455.40" y="368.80" font-size="8.5" text-anchor="middle" textLength="8.7" lengthAdjust="spacingAndGlyphs" fill="#111">40</text>
<text x="455.40" y="379.10" font-size="8.5" text-anchor="middle" textLength="15.22" lengthAdjust="spacingAndGlyphs" fill="#111">0.01</text>
<text x="7.20" y="405.55" font-size="10.4" font-weight="bold" fill="#000" style="stroke:#000;stroke-width:0.75px">E</text>
<line x1="44.60" y1="412.10" x2="44.60" y2="538.90" stroke="#1a1a1a" stroke-width="1.3"/>
<line x1="44.00" y1="538.30" x2="173.80" y2="538.30" stroke="#1a1a1a" stroke-width="1.3"/>
<line x1="41.60" y1="532.10" x2="44.60" y2="532.10" stroke="#1a1a1a" stroke-width="1.1"/>
<text x="37.90" y="534.60" font-size="8.5" text-anchor="end" textLength="4.25" lengthAdjust="spacingAndGlyphs" fill="#111">0</text>
<line x1="41.60" y1="490.20" x2="44.60" y2="490.20" stroke="#1a1a1a" stroke-width="1.1"/>
<text x="37.90" y="492.70" font-size="8.5" text-anchor="end" textLength="8.51" lengthAdjust="spacingAndGlyphs" fill="#111">20</text>
<line x1="41.60" y1="448.30" x2="44.60" y2="448.30" stroke="#1a1a1a" stroke-width="1.1"/>
<text x="37.90" y="450.80" font-size="8.5" text-anchor="end" textLength="8.51" lengthAdjust="spacingAndGlyphs" fill="#111">40</text>
<text transform="translate(23.50,476.30) rotate(-90)" x="0" y="0" font-size="8.5" text-anchor="middle" textLength="64.7" lengthAdjust="spacingAndGlyphs" fill="#111">t-PA in plasma (ng/ml)</text>
<line x1="69.10" y1="538.30" x2="69.10" y2="540.90" stroke="#1a1a1a" stroke-width="1.1"/>
<text x="69.10" y="550.80" font-size="8.3" text-anchor="middle" textLength="20" lengthAdjust="spacingAndGlyphs" fill="#111">Donor</text>
<line x1="110.80" y1="538.30" x2="110.80" y2="540.90" stroke="#1a1a1a" stroke-width="1.1"/>
<text x="110.25" y="550.80" font-size="8.3" text-anchor="middle" textLength="28.6" lengthAdjust="spacingAndGlyphs" fill="#111">Influenza</text>
<line x1="152.50" y1="538.30" x2="152.50" y2="540.90" stroke="#1a1a1a" stroke-width="1.1"/>
<text x="152.00" y="550.80" font-size="8.3" text-anchor="middle" textLength="41.6" lengthAdjust="spacingAndGlyphs" fill="#111">SARS-CoV2</text>
<path d="M110.80,419.90 V417.30 H152.70 V419.90" fill="none" stroke="#2a2a2a" stroke-width="1.2"/>
<text x="131.75" y="414.80" font-size="8.0" text-anchor="middle" textLength="23.7" lengthAdjust="spacingAndGlyphs" fill="#111">0.0032</text>
<path d="M68.90,433.30 V430.70 H152.70 V433.30" fill="none" stroke="#2a2a2a" stroke-width="1.2"/>
<text x="110.80" y="428.10" font-size="8.0" text-anchor="middle" textLength="28.01" lengthAdjust="spacingAndGlyphs" fill="#111">0.00022</text>
<path d="M68.90,446.00 V443.40 H110.80 V446.00" fill="none" stroke="#2a2a2a" stroke-width="1.2"/>
<text x="89.85" y="440.20" font-size="8.0" text-anchor="middle" textLength="15.08" lengthAdjust="spacingAndGlyphs" fill="#111">0.77</text>
<line x1="69.20" y1="518.80" x2="69.20" y2="523.80" stroke="#333" stroke-width="1.2"/>
<rect x="53.40" y="518.80" width="31.70" height="5.00" fill="#f2a2ad" stroke="#2b2b2b" stroke-width="1.2"/>
<line x1="53.40" y1="521.30" x2="85.10" y2="521.30" stroke="#2b2b2b" stroke-width="1.3"/>
<circle cx="68.05" cy="511.30" r="1.3" fill="#c8102e"/>
<circle cx="70.55" cy="511.30" r="1.3" fill="#c8102e"/>
<circle cx="64.30" cy="518.80" r="1.3" fill="#c8102e"/>
<circle cx="66.80" cy="518.80" r="1.3" fill="#c8102e"/>
<circle cx="69.30" cy="518.80" r="1.3" fill="#c8102e"/>
<circle cx="71.80" cy="518.80" r="1.3" fill="#c8102e"/>
<circle cx="74.30" cy="518.80" r="1.3" fill="#c8102e"/>
<circle cx="64.30" cy="520.80" r="1.3" fill="#c8102e"/>
<circle cx="66.80" cy="520.80" r="1.3" fill="#c8102e"/>
<circle cx="69.30" cy="520.80" r="1.3" fill="#c8102e"/>
<circle cx="71.80" cy="520.80" r="1.3" fill="#c8102e"/>
<circle cx="74.30" cy="520.80" r="1.3" fill="#c8102e"/>
<circle cx="64.30" cy="523.20" r="1.3" fill="#c8102e"/>
<circle cx="66.80" cy="523.20" r="1.3" fill="#c8102e"/>
<circle cx="69.30" cy="523.20" r="1.3" fill="#c8102e"/>
<circle cx="71.80" cy="523.20" r="1.3" fill="#c8102e"/>
<circle cx="74.30" cy="523.20" r="1.3" fill="#c8102e"/>
<circle cx="64.30" cy="525.60" r="1.3" fill="#c8102e"/>
<circle cx="66.80" cy="525.60" r="1.3" fill="#c8102e"/>
<circle cx="69.30" cy="525.60" r="1.3" fill="#c8102e"/>
<circle cx="71.80" cy="525.60" r="1.3" fill="#c8102e"/>
<circle cx="74.30" cy="525.60" r="1.3" fill="#c8102e"/>
<line x1="110.90" y1="507.80" x2="110.90" y2="525.70" stroke="#333" stroke-width="1.2"/>
<rect x="95.10" y="517.20" width="31.70" height="8.50" fill="#a8dfa8" stroke="#2b2b2b" stroke-width="1.2"/>
<line x1="95.10" y1="521.40" x2="126.80" y2="521.40" stroke="#2b2b2b" stroke-width="1.3"/>
<circle cx="110.90" cy="489.20" r="1.3" fill="#22b02a"/>
<circle cx="110.90" cy="493.70" r="1.3" fill="#22b02a"/>
<circle cx="108.35" cy="507.80" r="1.3" fill="#22b02a"/>
<circle cx="110.90" cy="507.80" r="1.3" fill="#22b02a"/>
<circle cx="113.45" cy="507.80" r="1.3" fill="#22b02a"/>
<circle cx="108.50" cy="516.80" r="1.3" fill="#22b02a"/>
<circle cx="110.90" cy="516.80" r="1.3" fill="#22b02a"/>
<circle cx="113.30" cy="516.80" r="1.3" fill="#22b02a"/>
<circle cx="103.70" cy="520.40" r="1.3" fill="#22b02a"/>
<circle cx="106.10" cy="520.40" r="1.3" fill="#22b02a"/>
<circle cx="108.50" cy="520.40" r="1.3" fill="#22b02a"/>
<circle cx="110.90" cy="520.40" r="1.3" fill="#22b02a"/>
<circle cx="113.30" cy="520.40" r="1.3" fill="#22b02a"/>
<circle cx="115.70" cy="520.40" r="1.3" fill="#22b02a"/>
<circle cx="118.10" cy="520.40" r="1.3" fill="#22b02a"/>
<circle cx="101.30" cy="524.40" r="1.3" fill="#22b02a"/>
<circle cx="103.70" cy="524.40" r="1.3" fill="#22b02a"/>
<circle cx="106.10" cy="524.40" r="1.3" fill="#22b02a"/>
<circle cx="108.50" cy="524.40" r="1.3" fill="#22b02a"/>
<circle cx="110.90" cy="524.40" r="1.3" fill="#22b02a"/>
<circle cx="113.30" cy="524.40" r="1.3" fill="#22b02a"/>
<circle cx="115.70" cy="524.40" r="1.3" fill="#22b02a"/>
<circle cx="118.10" cy="524.40" r="1.3" fill="#22b02a"/>
<circle cx="120.50" cy="524.40" r="1.3" fill="#22b02a"/>
<line x1="152.80" y1="499.30" x2="152.80" y2="526.60" stroke="#333" stroke-width="1.2"/>
<rect x="137.10" y="506.30" width="31.50" height="10.50" fill="#80a3c5" stroke="#2b2b2b" stroke-width="1.2"/>
<line x1="137.10" y1="508.90" x2="168.60" y2="508.90" stroke="#2b2b2b" stroke-width="1.3"/>
<circle cx="152.80" cy="446.60" r="1.3" fill="#0b4a8c"/>
<circle cx="152.80" cy="464.50" r="1.3" fill="#0b4a8c"/>
<circle cx="152.80" cy="486.70" r="1.3" fill="#0b4a8c"/>
<circle cx="152.80" cy="499.30" r="1.3" fill="#0b4a8c"/>
<circle cx="147.30" cy="506.00" r="1.3" fill="#0b4a8c"/>
<circle cx="149.50" cy="506.00" r="1.3" fill="#0b4a8c"/>
<circle cx="151.70" cy="506.00" r="1.3" fill="#0b4a8c"/>
<circle cx="153.90" cy="506.00" r="1.3" fill="#0b4a8c"/>
<circle cx="156.10" cy="506.00" r="1.3" fill="#0b4a8c"/>
<circle cx="158.30" cy="506.00" r="1.3" fill="#0b4a8c"/>
<circle cx="148.30" cy="509.10" r="1.3" fill="#0b4a8c"/>
<circle cx="150.55" cy="509.10" r="1.3" fill="#0b4a8c"/>
<circle cx="152.80" cy="509.10" r="1.3" fill="#0b4a8c"/>
<circle cx="155.05" cy="509.10" r="1.3" fill="#0b4a8c"/>
<circle cx="157.30" cy="509.10" r="1.3" fill="#0b4a8c"/>
<circle cx="145.90" cy="517.70" r="1.3" fill="#0b4a8c"/>
<circle cx="148.20" cy="517.70" r="1.3" fill="#0b4a8c"/>
<circle cx="150.50" cy="517.70" r="1.3" fill="#0b4a8c"/>
<circle cx="152.80" cy="517.70" r="1.3" fill="#0b4a8c"/>
<circle cx="155.10" cy="517.70" r="1.3" fill="#0b4a8c"/>
<circle cx="157.40" cy="517.70" r="1.3" fill="#0b4a8c"/>
<circle cx="159.70" cy="517.70" r="1.3" fill="#0b4a8c"/>
<circle cx="151.00" cy="526.50" r="1.3" fill="#0b4a8c"/>
<circle cx="154.60" cy="526.50" r="1.3" fill="#0b4a8c"/>
<text x="185.60" y="404.55" font-size="10.4" font-weight="bold" fill="#000" style="stroke:#000;stroke-width:0.75px">F</text>
<line x1="219.50" y1="412.10" x2="219.50" y2="538.90" stroke="#1a1a1a" stroke-width="1.3"/>
<line x1="218.90" y1="538.30" x2="345.00" y2="538.30" stroke="#1a1a1a" stroke-width="1.3"/>
<line x1="216.50" y1="532.90" x2="219.50" y2="532.90" stroke="#1a1a1a" stroke-width="1.1"/>
<text x="213.10" y="535.40" font-size="8.5" text-anchor="end" textLength="4.25" lengthAdjust="spacingAndGlyphs" fill="#111">0</text>
<line x1="216.50" y1="507.18" x2="219.50" y2="507.18" stroke="#1a1a1a" stroke-width="1.1"/>
<text x="213.10" y="509.68" font-size="8.5" text-anchor="end" textLength="12.76" lengthAdjust="spacingAndGlyphs" fill="#111">100</text>
<line x1="216.50" y1="481.46" x2="219.50" y2="481.46" stroke="#1a1a1a" stroke-width="1.1"/>
<text x="213.10" y="483.96" font-size="8.5" text-anchor="end" textLength="12.76" lengthAdjust="spacingAndGlyphs" fill="#111">200</text>
<line x1="216.50" y1="455.74" x2="219.50" y2="455.74" stroke="#1a1a1a" stroke-width="1.1"/>
<text x="213.10" y="458.24" font-size="8.5" text-anchor="end" textLength="12.76" lengthAdjust="spacingAndGlyphs" fill="#111">300</text>
<line x1="216.50" y1="430.02" x2="219.50" y2="430.02" stroke="#1a1a1a" stroke-width="1.1"/>
<text x="213.10" y="432.52" font-size="8.5" text-anchor="end" textLength="12.76" lengthAdjust="spacingAndGlyphs" fill="#111">400</text>
<text transform="translate(193.40,476.70) rotate(-90)" x="0" y="0" font-size="8.5" text-anchor="middle" textLength="68" lengthAdjust="spacingAndGlyphs" fill="#111">PAI-1 in plasma (ng/ml)</text>
<line x1="243.40" y1="538.30" x2="243.40" y2="540.90" stroke="#1a1a1a" stroke-width="1.1"/>
<text x="243.40" y="550.80" font-size="8.3" text-anchor="middle" textLength="20" lengthAdjust="spacingAndGlyphs" fill="#111">Donor</text>
<line x1="283.00" y1="538.30" x2="283.00" y2="540.90" stroke="#1a1a1a" stroke-width="1.1"/>
<text x="281.90" y="550.80" font-size="8.3" text-anchor="middle" textLength="28.6" lengthAdjust="spacingAndGlyphs" fill="#111">Influenza</text>
<line x1="322.70" y1="538.30" x2="322.70" y2="540.90" stroke="#1a1a1a" stroke-width="1.1"/>
<text x="321.70" y="550.80" font-size="8.3" text-anchor="middle" textLength="41.6" lengthAdjust="spacingAndGlyphs" fill="#111">SARS-CoV2</text>
<path d="M283.10,421.10 V418.50 H323.00 V421.10" fill="none" stroke="#2a2a2a" stroke-width="1.2"/>
<text x="303.05" y="415.70" font-size="8.0" text-anchor="middle" textLength="15.08" lengthAdjust="spacingAndGlyphs" fill="#111">0.14</text>
<path d="M243.40,434.90 V432.30 H323.00 V434.90" fill="none" stroke="#2a2a2a" stroke-width="1.2"/>
<text x="283.20" y="429.30" font-size="8.0" text-anchor="middle" textLength="26.28" lengthAdjust="spacingAndGlyphs" fill="#111">2.8e-05</text>
<path d="M243.40,447.60 V445.00 H283.10 V447.60" fill="none" stroke="#2a2a2a" stroke-width="1.2"/>
<text x="263.25" y="441.50" font-size="8.0" text-anchor="middle" textLength="23.7" lengthAdjust="spacingAndGlyphs" fill="#111">0.0075</text>
<line x1="243.40" y1="528.30" x2="243.40" y2="528.30" stroke="#333" stroke-width="1.2"/>
<rect x="224.70" y="528.30" width="37.50" height="0.00" fill="#f2a2ad" stroke="#2b2b2b" stroke-width="1.2"/>
<line x1="224.70" y1="528.30" x2="262.20" y2="528.30" stroke="#2b2b2b" stroke-width="1.3"/>
<circle cx="225.90" cy="528.30" r="1.3" fill="#c8102e"/>
<circle cx="228.60" cy="528.30" r="1.3" fill="#c8102e"/>
<circle cx="231.30" cy="528.30" r="1.3" fill="#c8102e"/>
<circle cx="234.00" cy="528.30" r="1.3" fill="#c8102e"/>
<circle cx="236.70" cy="528.30" r="1.3" fill="#c8102e"/>
<circle cx="239.40" cy="528.30" r="1.3" fill="#c8102e"/>
<circle cx="242.10" cy="528.30" r="1.3" fill="#c8102e"/>
<circle cx="244.80" cy="528.30" r="1.3" fill="#c8102e"/>
<circle cx="247.50" cy="528.30" r="1.3" fill="#c8102e"/>
<circle cx="250.20" cy="528.30" r="1.3" fill="#c8102e"/>
<circle cx="252.90" cy="528.30" r="1.3" fill="#c8102e"/>
<circle cx="255.60" cy="528.30" r="1.3" fill="#c8102e"/>
<circle cx="258.30" cy="528.30" r="1.3" fill="#c8102e"/>
<circle cx="261.00" cy="528.30" r="1.3" fill="#c8102e"/>
<circle cx="240.70" cy="523.90" r="1.3" fill="#c8102e"/>
<circle cx="243.45" cy="523.90" r="1.3" fill="#c8102e"/>
<circle cx="246.20" cy="523.90" r="1.3" fill="#c8102e"/>
<line x1="283.00" y1="502.70" x2="283.00" y2="527.20" stroke="#333" stroke-width="1.2"/>
<rect x="268.40" y="515.50" width="29.20" height="11.70" fill="#a8dfa8" stroke="#2b2b2b" stroke-width="1.2"/>
<line x1="268.40" y1="524.60" x2="297.60" y2="524.60" stroke="#2b2b2b" stroke-width="1.3"/>
<circle cx="283.00" cy="480.90" r="1.3" fill="#22b02a"/>
<circle cx="281.80" cy="502.40" r="1.3" fill="#22b02a"/>
<circle cx="284.20" cy="502.40" r="1.3" fill="#22b02a"/>
<circle cx="283.00" cy="510.60" r="1.3" fill="#22b02a"/>
<circle cx="281.80" cy="517.30" r="1.3" fill="#22b02a"/>
<circle cx="284.20" cy="517.30" r="1.3" fill="#22b02a"/>
<circle cx="278.95" cy="523.10" r="1.3" fill="#22b02a"/>
<circle cx="281.65" cy="523.10" r="1.3" fill="#22b02a"/>
<circle cx="284.35" cy="523.10" r="1.3" fill="#22b02a"/>
<circle cx="287.05" cy="523.10" r="1.3" fill="#22b02a"/>
<circle cx="274.77" cy="527.80" r="1.3" fill="#22b02a"/>
<circle cx="277.12" cy="527.80" r="1.3" fill="#22b02a"/>
<circle cx="279.48" cy="527.80" r="1.3" fill="#22b02a"/>
<circle cx="281.82" cy="527.80" r="1.3" fill="#22b02a"/>
<circle cx="284.18" cy="527.80" r="1.3" fill="#22b02a"/>
<circle cx="286.52" cy="527.80" r="1.3" fill="#22b02a"/>
<circle cx="288.88" cy="527.80" r="1.3" fill="#22b02a"/>
<circle cx="291.23" cy="527.80" r="1.3" fill="#22b02a"/>
<line x1="322.60" y1="471.90" x2="322.60" y2="528.40" stroke="#333" stroke-width="1.2"/>
<rect x="308.20" y="501.40" width="29.20" height="22.60" fill="#80a3c5" stroke="#2b2b2b" stroke-width="1.2"/>
<line x1="308.20" y1="516.50" x2="337.40" y2="516.50" stroke="#2b2b2b" stroke-width="1.3"/>
<circle cx="322.60" cy="447.30" r="1.3" fill="#0b4a8c"/>
<circle cx="322.60" cy="471.90" r="1.3" fill="#0b4a8c"/>
<circle cx="322.60" cy="476.30" r="1.3" fill="#0b4a8c"/>
<circle cx="322.60" cy="488.90" r="1.3" fill="#0b4a8c"/>
<circle cx="321.40" cy="499.50" r="1.3" fill="#0b4a8c"/>
<circle cx="323.80" cy="499.50" r="1.3" fill="#0b4a8c"/>
<circle cx="318.40" cy="510.90" r="1.3" fill="#0b4a8c"/>
<circle cx="321.20" cy="510.90" r="1.3" fill="#0b4a8c"/>
<circle cx="324.00" cy="510.90" r="1.3" fill="#0b4a8c"/>
<circle cx="326.80" cy="510.90" r="1.3" fill="#0b4a8c"/>
<circle cx="321.40" cy="518.00" r="1.3" fill="#0b4a8c"/>
<circle cx="323.80" cy="518.00" r="1.3" fill="#0b4a8c"/>
<circle cx="318.70" cy="523.00" r="1.3" fill="#0b4a8c"/>
<circle cx="321.30" cy="523.00" r="1.3" fill="#0b4a8c"/>
<circle cx="323.90" cy="523.00" r="1.3" fill="#0b4a8c"/>
<circle cx="326.50" cy="523.00" r="1.3" fill="#0b4a8c"/>
<circle cx="317.00" cy="528.40" r="1.3" fill="#0b4a8c"/>
<circle cx="319.80" cy="528.40" r="1.3" fill="#0b4a8c"/>
<circle cx="322.60" cy="528.40" r="1.3" fill="#0b4a8c"/>
<circle cx="325.40" cy="528.40" r="1.3" fill="#0b4a8c"/>
<circle cx="328.20" cy="528.40" r="1.3" fill="#0b4a8c"/>
<text x="353.00" y="404.55" font-size="10.4" font-weight="bold" fill="#000" style="stroke:#000;stroke-width:0.75px">G</text>
<line x1="386.30" y1="415.00" x2="386.30" y2="538.90" stroke="#1a1a1a" stroke-width="1.3"/>
<line x1="385.70" y1="538.30" x2="512.80" y2="538.30" stroke="#1a1a1a" stroke-width="1.3"/>
<line x1="383.30" y1="532.70" x2="386.30" y2="532.70" stroke="#1a1a1a" stroke-width="1.1"/>
<text x="379.70" y="535.20" font-size="8.5" text-anchor="end" textLength="4.25" lengthAdjust="spacingAndGlyphs" fill="#111">0</text>
<line x1="383.30" y1="504.64" x2="386.30" y2="504.64" stroke="#1a1a1a" stroke-width="1.1"/>
<text x="379.70" y="507.14" font-size="8.5" text-anchor="end" textLength="8.51" lengthAdjust="spacingAndGlyphs" fill="#111">25</text>
<line x1="383.30" y1="476.58" x2="386.30" y2="476.58" stroke="#1a1a1a" stroke-width="1.1"/>
<text x="379.70" y="479.08" font-size="8.5" text-anchor="end" textLength="8.51" lengthAdjust="spacingAndGlyphs" fill="#111">50</text>
<line x1="383.30" y1="448.51" x2="386.30" y2="448.51" stroke="#1a1a1a" stroke-width="1.1"/>
<text x="379.70" y="451.01" font-size="8.5" text-anchor="end" textLength="8.51" lengthAdjust="spacingAndGlyphs" fill="#111">75</text>
<line x1="383.30" y1="420.45" x2="386.30" y2="420.45" stroke="#1a1a1a" stroke-width="1.1"/>
<text x="379.70" y="422.95" font-size="8.5" text-anchor="end" textLength="12.76" lengthAdjust="spacingAndGlyphs" fill="#111">100</text>
<text transform="translate(361.40,478.00) rotate(-90)" x="0" y="0" font-size="8.5" text-anchor="middle" textLength="64" lengthAdjust="spacingAndGlyphs" fill="#111">TAFI in plasma (ng/ml)</text>
<line x1="409.70" y1="538.30" x2="409.70" y2="540.90" stroke="#1a1a1a" stroke-width="1.1"/>
<text x="409.70" y="550.80" font-size="8.3" text-anchor="middle" textLength="20" lengthAdjust="spacingAndGlyphs" fill="#111">Donor</text>
<line x1="449.30" y1="538.30" x2="449.30" y2="540.90" stroke="#1a1a1a" stroke-width="1.1"/>
<text x="448.20" y="550.80" font-size="8.3" text-anchor="middle" textLength="28.6" lengthAdjust="spacingAndGlyphs" fill="#111">Influenza</text>
<line x1="488.40" y1="538.30" x2="488.40" y2="540.90" stroke="#1a1a1a" stroke-width="1.1"/>
<text x="487.40" y="550.80" font-size="8.3" text-anchor="middle" textLength="41.6" lengthAdjust="spacingAndGlyphs" fill="#111">SARS-CoV2</text>
<path d="M449.10,433.10 V430.50 H488.40 V433.10" fill="none" stroke="#2a2a2a" stroke-width="1.2"/>
<text x="468.75" y="427.30" font-size="8.0" text-anchor="middle" textLength="23.7" lengthAdjust="spacingAndGlyphs" fill="#111">0.0062</text>
<path d="M409.50,445.00 V442.40 H488.40 V445.00" fill="none" stroke="#2a2a2a" stroke-width="1.2"/>
<text x="448.95" y="439.00" font-size="8.0" text-anchor="middle" textLength="26.28" lengthAdjust="spacingAndGlyphs" fill="#111">1.6e-06</text>
<path d="M409.50,456.40 V453.80 H449.10 V456.40" fill="none" stroke="#2a2a2a" stroke-width="1.2"/>
<text x="429.30" y="450.20" font-size="8.0" text-anchor="middle" textLength="28.01" lengthAdjust="spacingAndGlyphs" fill="#111">0.00024</text>
<line x1="410.00" y1="512.90" x2="410.00" y2="528.80" stroke="#333" stroke-width="1.2"/>
<rect x="395.20" y="520.20" width="29.40" height="7.10" fill="#f2a2ad" stroke="#2b2b2b" stroke-width="1.2"/>
<line x1="395.20" y1="523.50" x2="424.60" y2="523.50" stroke="#2b2b2b" stroke-width="1.3"/>
<circle cx="410.00" cy="512.90" r="1.3" fill="#c8102e"/>
<circle cx="407.30" cy="517.20" r="1.3" fill="#c8102e"/>
<circle cx="410.00" cy="517.20" r="1.3" fill="#c8102e"/>
<circle cx="412.70" cy="517.20" r="1.3" fill="#c8102e"/>
<circle cx="405.80" cy="521.50" r="1.3" fill="#c8102e"/>
<circle cx="408.60" cy="521.50" r="1.3" fill="#c8102e"/>
<circle cx="411.40" cy="521.50" r="1.3" fill="#c8102e"/>
<circle cx="414.20" cy="521.50" r="1.3" fill="#c8102e"/>
<circle cx="404.40" cy="525.20" r="1.3" fill="#c8102e"/>
<circle cx="407.20" cy="525.20" r="1.3" fill="#c8102e"/>
<circle cx="410.00" cy="525.20" r="1.3" fill="#c8102e"/>
<circle cx="412.80" cy="525.20" r="1.3" fill="#c8102e"/>
<circle cx="415.60" cy="525.20" r="1.3" fill="#c8102e"/>
<circle cx="405.80" cy="528.80" r="1.3" fill="#c8102e"/>
<circle cx="408.60" cy="528.80" r="1.3" fill="#c8102e"/>
<circle cx="411.40" cy="528.80" r="1.3" fill="#c8102e"/>
<circle cx="414.20" cy="528.80" r="1.3" fill="#c8102e"/>
<line x1="449.10" y1="478.60" x2="449.10" y2="525.20" stroke="#333" stroke-width="1.2"/>
<rect x="434.30" y="500.50" width="29.60" height="18.90" fill="#a8dfa8" stroke="#2b2b2b" stroke-width="1.2"/>
<line x1="434.30" y1="510.70" x2="463.90" y2="510.70" stroke="#2b2b2b" stroke-width="1.3"/>
<circle cx="449.10" cy="478.60" r="1.3" fill="#22b02a"/>
<circle cx="447.75" cy="484.90" r="1.3" fill="#22b02a"/>
<circle cx="450.45" cy="484.90" r="1.3" fill="#22b02a"/>
<circle cx="447.75" cy="495.00" r="1.3" fill="#22b02a"/>
<circle cx="450.45" cy="495.00" r="1.3" fill="#22b02a"/>
<circle cx="449.10" cy="500.50" r="1.3" fill="#22b02a"/>
<circle cx="446.20" cy="505.30" r="1.3" fill="#22b02a"/>
<circle cx="449.10" cy="505.30" r="1.3" fill="#22b02a"/>
<circle cx="452.00" cy="505.30" r="1.3" fill="#22b02a"/>
<circle cx="447.75" cy="510.70" r="1.3" fill="#22b02a"/>
<circle cx="450.45" cy="510.70" r="1.3" fill="#22b02a"/>
<circle cx="446.20" cy="515.30" r="1.3" fill="#22b02a"/>
<circle cx="449.10" cy="515.30" r="1.3" fill="#22b02a"/>
<circle cx="452.00" cy="515.30" r="1.3" fill="#22b02a"/>
<circle cx="445.05" cy="520.10" r="1.3" fill="#22b02a"/>
<circle cx="447.75" cy="520.10" r="1.3" fill="#22b02a"/>
<circle cx="450.45" cy="520.10" r="1.3" fill="#22b02a"/>
<circle cx="453.15" cy="520.10" r="1.3" fill="#22b02a"/>
<circle cx="446.20" cy="525.20" r="1.3" fill="#22b02a"/>
<circle cx="449.10" cy="525.20" r="1.3" fill="#22b02a"/>
<circle cx="452.00" cy="525.20" r="1.3" fill="#22b02a"/>
<line x1="488.20" y1="456.10" x2="488.20" y2="520.70" stroke="#333" stroke-width="1.2"/>
<rect x="473.40" y="472.90" width="29.90" height="32.30" fill="#80a3c5" stroke="#2b2b2b" stroke-width="1.2"/>
<line x1="473.40" y1="493.30" x2="503.30" y2="493.30" stroke="#2b2b2b" stroke-width="1.3"/>
<circle cx="488.20" cy="456.10" r="1.3" fill="#0b4a8c"/>
<circle cx="486.90" cy="466.20" r="1.3" fill="#0b4a8c"/>
<circle cx="489.50" cy="466.20" r="1.3" fill="#0b4a8c"/>
<circle cx="485.50" cy="471.50" r="1.3" fill="#0b4a8c"/>
<circle cx="488.20" cy="471.50" r="1.3" fill="#0b4a8c"/>
<circle cx="490.90" cy="471.50" r="1.3" fill="#0b4a8c"/>
<circle cx="488.20" cy="478.90" r="1.3" fill="#0b4a8c"/>
<circle cx="486.90" cy="484.30" r="1.3" fill="#0b4a8c"/>
<circle cx="489.50" cy="484.30" r="1.3" fill="#0b4a8c"/>
<circle cx="488.20" cy="492.40" r="1.3" fill="#0b4a8c"/>
<circle cx="486.90" cy="495.10" r="1.3" fill="#0b4a8c"/>
<circle cx="489.50" cy="495.10" r="1.3" fill="#0b4a8c"/>
<circle cx="484.15" cy="504.50" r="1.3" fill="#0b4a8c"/>
<circle cx="486.85" cy="504.50" r="1.3" fill="#0b4a8c"/>
<circle cx="489.55" cy="504.50" r="1.3" fill="#0b4a8c"/>
<circle cx="492.25" cy="504.50" r="1.3" fill="#0b4a8c"/>
<circle cx="488.20" cy="511.90" r="1.3" fill="#0b4a8c"/>
<circle cx="486.90" cy="516.20" r="1.3" fill="#0b4a8c"/>
<circle cx="489.50" cy="516.20" r="1.3" fill="#0b4a8c"/>
<circle cx="486.90" cy="520.70" r="1.3" fill="#0b4a8c"/>
<circle cx="489.50" cy="520.70" r="1.3" fill="#0b4a8c"/>
<rect x="0" y="0" width="520" height="557" fill="none" stroke="#000" stroke-width="2.3"/>
</svg></body></html>
